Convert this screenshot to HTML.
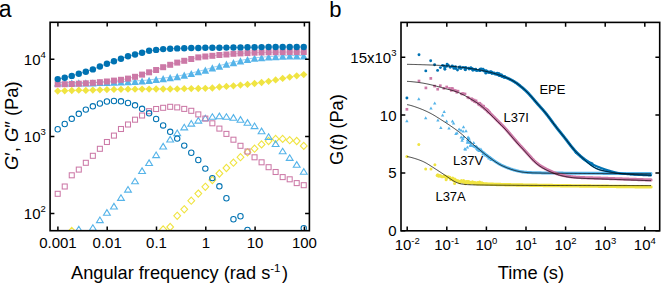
<!DOCTYPE html>
<html><head><meta charset="utf-8"><style>
html,body{margin:0;padding:0;background:#fff;}
svg{display:block;}
text{font-family:"Liberation Sans",sans-serif;fill:#000;}
</style></head><body>
<svg width="661" height="283" viewBox="0 0 661 283">
<defs><clipPath id="ca"><rect x="50.1" y="22.3" width="259.3" height="208.4"/></clipPath><clipPath id="cb"><rect x="401" y="22.4" width="258.7" height="208.4"/></clipPath></defs>
<g clip-path="url(#ca)">
<path d="M71.76 227.40L75.16 231.00L71.76 234.60L68.36 231.00Z" fill="none" stroke="#F0E442" stroke-width="1.1"/>
<path d="M163.15 225.90L166.55 229.50L163.15 233.10L159.75 229.50Z" fill="none" stroke="#F0E442" stroke-width="1.1"/>
<path d="M170.18 223.40L173.58 227.00L170.18 230.60L166.78 227.00Z" fill="none" stroke="#F0E442" stroke-width="1.1"/>
<path d="M177.21 212.20L180.61 215.80L177.21 219.40L173.81 215.80Z" fill="none" stroke="#F0E442" stroke-width="1.1"/>
<path d="M184.24 205.70L187.64 209.30L184.24 212.90L180.84 209.30Z" fill="none" stroke="#F0E442" stroke-width="1.1"/>
<path d="M191.27 197.10L194.67 200.70L191.27 204.30L187.87 200.70Z" fill="none" stroke="#F0E442" stroke-width="1.1"/>
<path d="M198.30 190.00L201.70 193.60L198.30 197.20L194.90 193.60Z" fill="none" stroke="#F0E442" stroke-width="1.1"/>
<path d="M205.33 183.20L208.73 186.80L205.33 190.40L201.93 186.80Z" fill="none" stroke="#F0E442" stroke-width="1.1"/>
<path d="M212.36 176.40L215.76 180.00L212.36 183.60L208.96 180.00Z" fill="none" stroke="#F0E442" stroke-width="1.1"/>
<path d="M219.39 169.90L222.79 173.50L219.39 177.10L215.99 173.50Z" fill="none" stroke="#F0E442" stroke-width="1.1"/>
<path d="M226.42 164.40L229.82 168.00L226.42 171.60L223.02 168.00Z" fill="none" stroke="#F0E442" stroke-width="1.1"/>
<path d="M233.45 159.10L236.85 162.70L233.45 166.30L230.05 162.70Z" fill="none" stroke="#F0E442" stroke-width="1.1"/>
<path d="M240.48 153.60L243.88 157.20L240.48 160.80L237.08 157.20Z" fill="none" stroke="#F0E442" stroke-width="1.1"/>
<path d="M247.51 148.70L250.91 152.30L247.51 155.90L244.11 152.30Z" fill="none" stroke="#F0E442" stroke-width="1.1"/>
<path d="M254.54 145.10L257.94 148.70L254.54 152.30L251.14 148.70Z" fill="none" stroke="#F0E442" stroke-width="1.1"/>
<path d="M261.57 140.80L264.97 144.40L261.57 148.00L258.17 144.40Z" fill="none" stroke="#F0E442" stroke-width="1.1"/>
<path d="M268.60 137.40L272.00 141.00L268.60 144.60L265.20 141.00Z" fill="none" stroke="#F0E442" stroke-width="1.1"/>
<path d="M275.63 135.30L279.03 138.90L275.63 142.50L272.23 138.90Z" fill="none" stroke="#F0E442" stroke-width="1.1"/>
<path d="M282.66 135.30L286.06 138.90L282.66 142.50L279.26 138.90Z" fill="none" stroke="#F0E442" stroke-width="1.1"/>
<path d="M289.69 136.60L293.09 140.20L289.69 143.80L286.29 140.20Z" fill="none" stroke="#F0E442" stroke-width="1.1"/>
<path d="M296.72 137.40L300.12 141.00L296.72 144.60L293.32 141.00Z" fill="none" stroke="#F0E442" stroke-width="1.1"/>
<path d="M303.75 142.30L307.15 145.90L303.75 149.50L300.35 145.90Z" fill="none" stroke="#F0E442" stroke-width="1.1"/>
<path d="M78.79 226.20L82.19 231.80L75.39 231.80Z" fill="none" stroke="#56B4E9" stroke-width="1.1" stroke-linejoin="miter"/>
<path d="M92.85 224.70L96.25 230.30L89.45 230.30Z" fill="none" stroke="#56B4E9" stroke-width="1.1" stroke-linejoin="miter"/>
<path d="M99.88 217.00L103.28 222.60L96.48 222.60Z" fill="none" stroke="#56B4E9" stroke-width="1.1" stroke-linejoin="miter"/>
<path d="M106.91 209.60L110.31 215.20L103.51 215.20Z" fill="none" stroke="#56B4E9" stroke-width="1.1" stroke-linejoin="miter"/>
<path d="M113.94 203.40L117.34 209.00L110.54 209.00Z" fill="none" stroke="#56B4E9" stroke-width="1.1" stroke-linejoin="miter"/>
<path d="M120.97 194.80L124.37 200.40L117.57 200.40Z" fill="none" stroke="#56B4E9" stroke-width="1.1" stroke-linejoin="miter"/>
<path d="M128.00 186.50L131.40 192.10L124.60 192.10Z" fill="none" stroke="#56B4E9" stroke-width="1.1" stroke-linejoin="miter"/>
<path d="M135.03 178.20L138.43 183.80L131.63 183.80Z" fill="none" stroke="#56B4E9" stroke-width="1.1" stroke-linejoin="miter"/>
<path d="M142.06 167.90L145.46 173.50L138.66 173.50Z" fill="none" stroke="#56B4E9" stroke-width="1.1" stroke-linejoin="miter"/>
<path d="M149.09 159.90L152.49 165.50L145.69 165.50Z" fill="none" stroke="#56B4E9" stroke-width="1.1" stroke-linejoin="miter"/>
<path d="M156.12 152.00L159.52 157.60L152.72 157.60Z" fill="none" stroke="#56B4E9" stroke-width="1.1" stroke-linejoin="miter"/>
<path d="M163.15 143.40L166.55 149.00L159.75 149.00Z" fill="none" stroke="#56B4E9" stroke-width="1.1" stroke-linejoin="miter"/>
<path d="M170.18 136.40L173.58 142.00L166.78 142.00Z" fill="none" stroke="#56B4E9" stroke-width="1.1" stroke-linejoin="miter"/>
<path d="M177.21 130.00L180.61 135.60L173.81 135.60Z" fill="none" stroke="#56B4E9" stroke-width="1.1" stroke-linejoin="miter"/>
<path d="M184.24 124.30L187.64 129.90L180.84 129.90Z" fill="none" stroke="#56B4E9" stroke-width="1.1" stroke-linejoin="miter"/>
<path d="M191.27 120.50L194.67 126.10L187.87 126.10Z" fill="none" stroke="#56B4E9" stroke-width="1.1" stroke-linejoin="miter"/>
<path d="M198.30 117.50L201.70 123.10L194.90 123.10Z" fill="none" stroke="#56B4E9" stroke-width="1.1" stroke-linejoin="miter"/>
<path d="M205.33 115.20L208.73 120.80L201.93 120.80Z" fill="none" stroke="#56B4E9" stroke-width="1.1" stroke-linejoin="miter"/>
<path d="M212.36 113.70L215.76 119.30L208.96 119.30Z" fill="none" stroke="#56B4E9" stroke-width="1.1" stroke-linejoin="miter"/>
<path d="M219.39 113.10L222.79 118.70L215.99 118.70Z" fill="none" stroke="#56B4E9" stroke-width="1.1" stroke-linejoin="miter"/>
<path d="M226.42 113.70L229.82 119.30L223.02 119.30Z" fill="none" stroke="#56B4E9" stroke-width="1.1" stroke-linejoin="miter"/>
<path d="M233.45 114.60L236.85 120.20L230.05 120.20Z" fill="none" stroke="#56B4E9" stroke-width="1.1" stroke-linejoin="miter"/>
<path d="M240.48 116.60L243.88 122.20L237.08 122.20Z" fill="none" stroke="#56B4E9" stroke-width="1.1" stroke-linejoin="miter"/>
<path d="M247.51 119.60L250.91 125.20L244.11 125.20Z" fill="none" stroke="#56B4E9" stroke-width="1.1" stroke-linejoin="miter"/>
<path d="M254.54 123.00L257.94 128.60L251.14 128.60Z" fill="none" stroke="#56B4E9" stroke-width="1.1" stroke-linejoin="miter"/>
<path d="M261.57 128.10L264.97 133.70L258.17 133.70Z" fill="none" stroke="#56B4E9" stroke-width="1.1" stroke-linejoin="miter"/>
<path d="M268.60 133.80L272.00 139.40L265.20 139.40Z" fill="none" stroke="#56B4E9" stroke-width="1.1" stroke-linejoin="miter"/>
<path d="M275.63 140.90L279.03 146.50L272.23 146.50Z" fill="none" stroke="#56B4E9" stroke-width="1.1" stroke-linejoin="miter"/>
<path d="M282.66 148.20L286.06 153.80L279.26 153.80Z" fill="none" stroke="#56B4E9" stroke-width="1.1" stroke-linejoin="miter"/>
<path d="M289.69 154.80L293.09 160.40L286.29 160.40Z" fill="none" stroke="#56B4E9" stroke-width="1.1" stroke-linejoin="miter"/>
<path d="M296.72 161.60L300.12 167.20L293.32 167.20Z" fill="none" stroke="#56B4E9" stroke-width="1.1" stroke-linejoin="miter"/>
<path d="M303.75 168.60L307.15 174.20L300.35 174.20Z" fill="none" stroke="#56B4E9" stroke-width="1.1" stroke-linejoin="miter"/>
<rect x="55.20" y="191.30" width="5.0" height="5.0" fill="none" stroke="#CC79A7" stroke-width="1.05"/>
<rect x="62.23" y="184.00" width="5.0" height="5.0" fill="none" stroke="#CC79A7" stroke-width="1.05"/>
<rect x="69.26" y="172.80" width="5.0" height="5.0" fill="none" stroke="#CC79A7" stroke-width="1.05"/>
<rect x="76.29" y="167.10" width="5.0" height="5.0" fill="none" stroke="#CC79A7" stroke-width="1.05"/>
<rect x="83.32" y="160.30" width="5.0" height="5.0" fill="none" stroke="#CC79A7" stroke-width="1.05"/>
<rect x="90.35" y="153.30" width="5.0" height="5.0" fill="none" stroke="#CC79A7" stroke-width="1.05"/>
<rect x="97.38" y="146.30" width="5.0" height="5.0" fill="none" stroke="#CC79A7" stroke-width="1.05"/>
<rect x="104.41" y="139.50" width="5.0" height="5.0" fill="none" stroke="#CC79A7" stroke-width="1.05"/>
<rect x="111.44" y="133.10" width="5.0" height="5.0" fill="none" stroke="#CC79A7" stroke-width="1.05"/>
<rect x="118.47" y="126.50" width="5.0" height="5.0" fill="none" stroke="#CC79A7" stroke-width="1.05"/>
<rect x="125.50" y="122.00" width="5.0" height="5.0" fill="none" stroke="#CC79A7" stroke-width="1.05"/>
<rect x="132.53" y="117.20" width="5.0" height="5.0" fill="none" stroke="#CC79A7" stroke-width="1.05"/>
<rect x="139.56" y="113.00" width="5.0" height="5.0" fill="none" stroke="#CC79A7" stroke-width="1.05"/>
<rect x="146.59" y="108.70" width="5.0" height="5.0" fill="none" stroke="#CC79A7" stroke-width="1.05"/>
<rect x="153.62" y="106.50" width="5.0" height="5.0" fill="none" stroke="#CC79A7" stroke-width="1.05"/>
<rect x="160.65" y="105.30" width="5.0" height="5.0" fill="none" stroke="#CC79A7" stroke-width="1.05"/>
<rect x="167.68" y="104.30" width="5.0" height="5.0" fill="none" stroke="#CC79A7" stroke-width="1.05"/>
<rect x="174.71" y="104.90" width="5.0" height="5.0" fill="none" stroke="#CC79A7" stroke-width="1.05"/>
<rect x="181.74" y="106.40" width="5.0" height="5.0" fill="none" stroke="#CC79A7" stroke-width="1.05"/>
<rect x="188.77" y="108.30" width="5.0" height="5.0" fill="none" stroke="#CC79A7" stroke-width="1.05"/>
<rect x="195.80" y="111.90" width="5.0" height="5.0" fill="none" stroke="#CC79A7" stroke-width="1.05"/>
<rect x="202.83" y="116.10" width="5.0" height="5.0" fill="none" stroke="#CC79A7" stroke-width="1.05"/>
<rect x="209.86" y="120.80" width="5.0" height="5.0" fill="none" stroke="#CC79A7" stroke-width="1.05"/>
<rect x="216.89" y="126.10" width="5.0" height="5.0" fill="none" stroke="#CC79A7" stroke-width="1.05"/>
<rect x="223.92" y="131.40" width="5.0" height="5.0" fill="none" stroke="#CC79A7" stroke-width="1.05"/>
<rect x="230.95" y="137.20" width="5.0" height="5.0" fill="none" stroke="#CC79A7" stroke-width="1.05"/>
<rect x="237.98" y="143.30" width="5.0" height="5.0" fill="none" stroke="#CC79A7" stroke-width="1.05"/>
<rect x="245.01" y="149.00" width="5.0" height="5.0" fill="none" stroke="#CC79A7" stroke-width="1.05"/>
<rect x="252.04" y="154.80" width="5.0" height="5.0" fill="none" stroke="#CC79A7" stroke-width="1.05"/>
<rect x="259.07" y="159.80" width="5.0" height="5.0" fill="none" stroke="#CC79A7" stroke-width="1.05"/>
<rect x="266.10" y="164.70" width="5.0" height="5.0" fill="none" stroke="#CC79A7" stroke-width="1.05"/>
<rect x="273.13" y="169.50" width="5.0" height="5.0" fill="none" stroke="#CC79A7" stroke-width="1.05"/>
<rect x="280.16" y="174.60" width="5.0" height="5.0" fill="none" stroke="#CC79A7" stroke-width="1.05"/>
<rect x="287.19" y="176.80" width="5.0" height="5.0" fill="none" stroke="#CC79A7" stroke-width="1.05"/>
<rect x="294.22" y="180.60" width="5.0" height="5.0" fill="none" stroke="#CC79A7" stroke-width="1.05"/>
<rect x="301.25" y="182.70" width="5.0" height="5.0" fill="none" stroke="#CC79A7" stroke-width="1.05"/>
<circle cx="57.70" cy="129.20" r="2.7" fill="none" stroke="#0072B2" stroke-width="1.05"/>
<circle cx="64.73" cy="124.00" r="2.7" fill="none" stroke="#0072B2" stroke-width="1.05"/>
<circle cx="71.76" cy="118.80" r="2.7" fill="none" stroke="#0072B2" stroke-width="1.05"/>
<circle cx="78.79" cy="113.80" r="2.7" fill="none" stroke="#0072B2" stroke-width="1.05"/>
<circle cx="85.82" cy="109.60" r="2.7" fill="none" stroke="#0072B2" stroke-width="1.05"/>
<circle cx="92.85" cy="106.30" r="2.7" fill="none" stroke="#0072B2" stroke-width="1.05"/>
<circle cx="99.88" cy="103.50" r="2.7" fill="none" stroke="#0072B2" stroke-width="1.05"/>
<circle cx="106.91" cy="101.50" r="2.7" fill="none" stroke="#0072B2" stroke-width="1.05"/>
<circle cx="113.94" cy="101.00" r="2.7" fill="none" stroke="#0072B2" stroke-width="1.05"/>
<circle cx="120.97" cy="101.30" r="2.7" fill="none" stroke="#0072B2" stroke-width="1.05"/>
<circle cx="128.00" cy="103.00" r="2.7" fill="none" stroke="#0072B2" stroke-width="1.05"/>
<circle cx="135.03" cy="105.30" r="2.7" fill="none" stroke="#0072B2" stroke-width="1.05"/>
<circle cx="142.06" cy="108.80" r="2.7" fill="none" stroke="#0072B2" stroke-width="1.05"/>
<circle cx="149.09" cy="113.30" r="2.7" fill="none" stroke="#0072B2" stroke-width="1.05"/>
<circle cx="156.12" cy="119.00" r="2.7" fill="none" stroke="#0072B2" stroke-width="1.05"/>
<circle cx="163.15" cy="125.40" r="2.7" fill="none" stroke="#0072B2" stroke-width="1.05"/>
<circle cx="170.18" cy="131.80" r="2.7" fill="none" stroke="#0072B2" stroke-width="1.05"/>
<circle cx="177.21" cy="138.60" r="2.7" fill="none" stroke="#0072B2" stroke-width="1.05"/>
<circle cx="184.24" cy="145.60" r="2.7" fill="none" stroke="#0072B2" stroke-width="1.05"/>
<circle cx="191.27" cy="152.70" r="2.7" fill="none" stroke="#0072B2" stroke-width="1.05"/>
<circle cx="198.30" cy="160.00" r="2.7" fill="none" stroke="#0072B2" stroke-width="1.05"/>
<circle cx="205.33" cy="168.60" r="2.7" fill="none" stroke="#0072B2" stroke-width="1.05"/>
<circle cx="212.36" cy="178.10" r="2.7" fill="none" stroke="#0072B2" stroke-width="1.05"/>
<circle cx="219.39" cy="186.30" r="2.7" fill="none" stroke="#0072B2" stroke-width="1.05"/>
<circle cx="226.42" cy="198.20" r="2.7" fill="none" stroke="#0072B2" stroke-width="1.05"/>
<circle cx="233.45" cy="219.20" r="2.7" fill="none" stroke="#0072B2" stroke-width="1.05"/>
<circle cx="240.48" cy="216.20" r="2.7" fill="none" stroke="#0072B2" stroke-width="1.05"/>
<circle cx="247.51" cy="230.00" r="2.7" fill="none" stroke="#0072B2" stroke-width="1.05"/>
<circle cx="303.75" cy="228.20" r="2.7" fill="none" stroke="#0072B2" stroke-width="1.05"/>
<polyline points="57.70,91.10 64.73,90.80 71.76,90.50 78.79,90.20 85.82,90.40 92.85,90.10 99.88,89.80 106.91,89.60 113.94,89.40 120.97,89.30 128.00,89.20 135.03,89.20 142.06,89.10 149.09,89.10 156.12,89.00 163.15,89.00 170.18,89.00 177.21,88.90 184.24,88.70 191.27,88.60 198.30,88.50 205.33,88.30 212.36,88.00 219.39,87.00 226.42,86.40 233.45,85.80 240.48,85.10 247.51,84.40 254.54,83.50 261.57,82.50 268.60,81.30 275.63,79.90 282.66,78.40 289.69,77.10 296.72,75.80 303.75,74.60" fill="none" stroke="#F0E442" stroke-width="0.6"/>
<path d="M57.70 87.45L61.35 91.10L57.70 94.75L54.05 91.10Z" fill="#F0E442"/>
<path d="M64.73 87.15L68.38 90.80L64.73 94.45L61.08 90.80Z" fill="#F0E442"/>
<path d="M71.76 86.85L75.41 90.50L71.76 94.15L68.11 90.50Z" fill="#F0E442"/>
<path d="M78.79 86.55L82.44 90.20L78.79 93.85L75.14 90.20Z" fill="#F0E442"/>
<path d="M85.82 86.75L89.47 90.40L85.82 94.05L82.17 90.40Z" fill="#F0E442"/>
<path d="M92.85 86.45L96.50 90.10L92.85 93.75L89.20 90.10Z" fill="#F0E442"/>
<path d="M99.88 86.15L103.53 89.80L99.88 93.45L96.23 89.80Z" fill="#F0E442"/>
<path d="M106.91 85.95L110.56 89.60L106.91 93.25L103.26 89.60Z" fill="#F0E442"/>
<path d="M113.94 85.75L117.59 89.40L113.94 93.05L110.29 89.40Z" fill="#F0E442"/>
<path d="M120.97 85.65L124.62 89.30L120.97 92.95L117.32 89.30Z" fill="#F0E442"/>
<path d="M128.00 85.55L131.65 89.20L128.00 92.85L124.35 89.20Z" fill="#F0E442"/>
<path d="M135.03 85.55L138.68 89.20L135.03 92.85L131.38 89.20Z" fill="#F0E442"/>
<path d="M142.06 85.45L145.71 89.10L142.06 92.75L138.41 89.10Z" fill="#F0E442"/>
<path d="M149.09 85.45L152.74 89.10L149.09 92.75L145.44 89.10Z" fill="#F0E442"/>
<path d="M156.12 85.35L159.77 89.00L156.12 92.65L152.47 89.00Z" fill="#F0E442"/>
<path d="M163.15 85.35L166.80 89.00L163.15 92.65L159.50 89.00Z" fill="#F0E442"/>
<path d="M170.18 85.35L173.83 89.00L170.18 92.65L166.53 89.00Z" fill="#F0E442"/>
<path d="M177.21 85.25L180.86 88.90L177.21 92.55L173.56 88.90Z" fill="#F0E442"/>
<path d="M184.24 85.05L187.89 88.70L184.24 92.35L180.59 88.70Z" fill="#F0E442"/>
<path d="M191.27 84.95L194.92 88.60L191.27 92.25L187.62 88.60Z" fill="#F0E442"/>
<path d="M198.30 84.85L201.95 88.50L198.30 92.15L194.65 88.50Z" fill="#F0E442"/>
<path d="M205.33 84.65L208.98 88.30L205.33 91.95L201.68 88.30Z" fill="#F0E442"/>
<path d="M212.36 84.35L216.01 88.00L212.36 91.65L208.71 88.00Z" fill="#F0E442"/>
<path d="M219.39 83.35L223.04 87.00L219.39 90.65L215.74 87.00Z" fill="#F0E442"/>
<path d="M226.42 82.75L230.07 86.40L226.42 90.05L222.77 86.40Z" fill="#F0E442"/>
<path d="M233.45 82.15L237.10 85.80L233.45 89.45L229.80 85.80Z" fill="#F0E442"/>
<path d="M240.48 81.45L244.13 85.10L240.48 88.75L236.83 85.10Z" fill="#F0E442"/>
<path d="M247.51 80.75L251.16 84.40L247.51 88.05L243.86 84.40Z" fill="#F0E442"/>
<path d="M254.54 79.85L258.19 83.50L254.54 87.15L250.89 83.50Z" fill="#F0E442"/>
<path d="M261.57 78.85L265.22 82.50L261.57 86.15L257.92 82.50Z" fill="#F0E442"/>
<path d="M268.60 77.65L272.25 81.30L268.60 84.95L264.95 81.30Z" fill="#F0E442"/>
<path d="M275.63 76.25L279.28 79.90L275.63 83.55L271.98 79.90Z" fill="#F0E442"/>
<path d="M282.66 74.75L286.31 78.40L282.66 82.05L279.01 78.40Z" fill="#F0E442"/>
<path d="M289.69 73.45L293.34 77.10L289.69 80.75L286.04 77.10Z" fill="#F0E442"/>
<path d="M296.72 72.15L300.37 75.80L296.72 79.45L293.07 75.80Z" fill="#F0E442"/>
<path d="M303.75 70.95L307.40 74.60L303.75 78.25L300.10 74.60Z" fill="#F0E442"/>
<polyline points="57.70,82.50 64.73,82.50 71.76,82.50 78.79,82.50 85.82,82.50 92.85,82.50 99.88,82.10 106.91,82.10 113.94,81.80 120.97,81.60 128.00,81.30 135.03,80.90 142.06,80.60 149.09,79.90 156.12,79.05 163.15,78.15 170.18,77.25 177.21,76.25 184.24,74.70 191.27,73.10 198.30,71.30 205.33,69.70 212.36,67.50 219.39,65.70 226.42,63.70 233.45,62.20 240.48,60.50 247.51,59.10 254.54,57.80 261.57,57.20 268.60,56.60 275.63,56.20 282.66,55.80 289.69,55.60 296.72,55.50 303.75,55.40" fill="none" stroke="#56B4E9" stroke-width="0.6"/>
<path d="M57.70 79.30L61.50 86.50L53.90 86.50Z" fill="#56B4E9"/>
<path d="M64.73 79.30L68.53 86.50L60.93 86.50Z" fill="#56B4E9"/>
<path d="M71.76 79.30L75.56 86.50L67.96 86.50Z" fill="#56B4E9"/>
<path d="M78.79 79.30L82.59 86.50L74.99 86.50Z" fill="#56B4E9"/>
<path d="M85.82 79.30L89.62 86.50L82.02 86.50Z" fill="#56B4E9"/>
<path d="M92.85 79.30L96.65 86.50L89.05 86.50Z" fill="#56B4E9"/>
<path d="M99.88 78.90L103.68 86.10L96.08 86.10Z" fill="#56B4E9"/>
<path d="M106.91 78.90L110.71 86.10L103.11 86.10Z" fill="#56B4E9"/>
<path d="M113.94 78.60L117.74 85.80L110.14 85.80Z" fill="#56B4E9"/>
<path d="M120.97 78.40L124.77 85.60L117.17 85.60Z" fill="#56B4E9"/>
<path d="M128.00 78.10L131.80 85.30L124.20 85.30Z" fill="#56B4E9"/>
<path d="M135.03 77.70L138.83 84.90L131.23 84.90Z" fill="#56B4E9"/>
<path d="M142.06 77.40L145.86 84.60L138.26 84.60Z" fill="#56B4E9"/>
<path d="M149.09 76.70L152.89 83.90L145.29 83.90Z" fill="#56B4E9"/>
<path d="M156.12 75.85L159.92 83.05L152.32 83.05Z" fill="#56B4E9"/>
<path d="M163.15 74.95L166.95 82.15L159.35 82.15Z" fill="#56B4E9"/>
<path d="M170.18 74.05L173.98 81.25L166.38 81.25Z" fill="#56B4E9"/>
<path d="M177.21 73.05L181.01 80.25L173.41 80.25Z" fill="#56B4E9"/>
<path d="M184.24 71.50L188.04 78.70L180.44 78.70Z" fill="#56B4E9"/>
<path d="M191.27 69.90L195.07 77.10L187.47 77.10Z" fill="#56B4E9"/>
<path d="M198.30 68.10L202.10 75.30L194.50 75.30Z" fill="#56B4E9"/>
<path d="M205.33 66.50L209.13 73.70L201.53 73.70Z" fill="#56B4E9"/>
<path d="M212.36 64.30L216.16 71.50L208.56 71.50Z" fill="#56B4E9"/>
<path d="M219.39 62.50L223.19 69.70L215.59 69.70Z" fill="#56B4E9"/>
<path d="M226.42 60.50L230.22 67.70L222.62 67.70Z" fill="#56B4E9"/>
<path d="M233.45 59.00L237.25 66.20L229.65 66.20Z" fill="#56B4E9"/>
<path d="M240.48 57.30L244.28 64.50L236.68 64.50Z" fill="#56B4E9"/>
<path d="M247.51 55.90L251.31 63.10L243.71 63.10Z" fill="#56B4E9"/>
<path d="M254.54 54.60L258.34 61.80L250.74 61.80Z" fill="#56B4E9"/>
<path d="M261.57 54.00L265.37 61.20L257.77 61.20Z" fill="#56B4E9"/>
<path d="M268.60 53.40L272.40 60.60L264.80 60.60Z" fill="#56B4E9"/>
<path d="M275.63 53.00L279.43 60.20L271.83 60.20Z" fill="#56B4E9"/>
<path d="M282.66 52.60L286.46 59.80L278.86 59.80Z" fill="#56B4E9"/>
<path d="M289.69 52.40L293.49 59.60L285.89 59.60Z" fill="#56B4E9"/>
<path d="M296.72 52.30L300.52 59.50L292.92 59.50Z" fill="#56B4E9"/>
<path d="M303.75 52.20L307.55 59.40L299.95 59.40Z" fill="#56B4E9"/>
<polyline points="57.70,84.30 64.73,84.20 71.76,84.00 78.79,83.70 85.82,83.30 92.85,82.80 99.88,82.20 106.91,81.50 113.94,80.60 120.97,79.80 128.00,78.60 135.03,76.80 142.06,74.60 149.09,72.30 156.12,70.00 163.15,67.20 170.18,64.80 177.21,62.60 184.24,60.80 191.27,59.00 198.30,57.40 205.33,56.50 212.36,55.80 219.39,55.00 226.42,54.50 233.45,53.80 240.48,53.40 247.51,53.10 254.54,52.70 261.57,52.50 268.60,52.30 275.63,52.20 282.66,52.10 289.69,52.00 296.72,52.00 303.75,52.00" fill="none" stroke="#CC79A7" stroke-width="0.6"/>
<rect x="54.70" y="81.30" width="6.0" height="6.0" fill="#CC79A7"/>
<rect x="61.73" y="81.20" width="6.0" height="6.0" fill="#CC79A7"/>
<rect x="68.76" y="81.00" width="6.0" height="6.0" fill="#CC79A7"/>
<rect x="75.79" y="80.70" width="6.0" height="6.0" fill="#CC79A7"/>
<rect x="82.82" y="80.30" width="6.0" height="6.0" fill="#CC79A7"/>
<rect x="89.85" y="79.80" width="6.0" height="6.0" fill="#CC79A7"/>
<rect x="96.88" y="79.20" width="6.0" height="6.0" fill="#CC79A7"/>
<rect x="103.91" y="78.50" width="6.0" height="6.0" fill="#CC79A7"/>
<rect x="110.94" y="77.60" width="6.0" height="6.0" fill="#CC79A7"/>
<rect x="117.97" y="76.80" width="6.0" height="6.0" fill="#CC79A7"/>
<rect x="125.00" y="75.60" width="6.0" height="6.0" fill="#CC79A7"/>
<rect x="132.03" y="73.80" width="6.0" height="6.0" fill="#CC79A7"/>
<rect x="139.06" y="71.60" width="6.0" height="6.0" fill="#CC79A7"/>
<rect x="146.09" y="69.30" width="6.0" height="6.0" fill="#CC79A7"/>
<rect x="153.12" y="67.00" width="6.0" height="6.0" fill="#CC79A7"/>
<rect x="160.15" y="64.20" width="6.0" height="6.0" fill="#CC79A7"/>
<rect x="167.18" y="61.80" width="6.0" height="6.0" fill="#CC79A7"/>
<rect x="174.21" y="59.60" width="6.0" height="6.0" fill="#CC79A7"/>
<rect x="181.24" y="57.80" width="6.0" height="6.0" fill="#CC79A7"/>
<rect x="188.27" y="56.00" width="6.0" height="6.0" fill="#CC79A7"/>
<rect x="195.30" y="54.40" width="6.0" height="6.0" fill="#CC79A7"/>
<rect x="202.33" y="53.50" width="6.0" height="6.0" fill="#CC79A7"/>
<rect x="209.36" y="52.80" width="6.0" height="6.0" fill="#CC79A7"/>
<rect x="216.39" y="52.00" width="6.0" height="6.0" fill="#CC79A7"/>
<rect x="223.42" y="51.50" width="6.0" height="6.0" fill="#CC79A7"/>
<rect x="230.45" y="50.80" width="6.0" height="6.0" fill="#CC79A7"/>
<rect x="237.48" y="50.40" width="6.0" height="6.0" fill="#CC79A7"/>
<rect x="244.51" y="50.10" width="6.0" height="6.0" fill="#CC79A7"/>
<rect x="251.54" y="49.70" width="6.0" height="6.0" fill="#CC79A7"/>
<rect x="258.57" y="49.50" width="6.0" height="6.0" fill="#CC79A7"/>
<rect x="265.60" y="49.30" width="6.0" height="6.0" fill="#CC79A7"/>
<rect x="272.63" y="49.20" width="6.0" height="6.0" fill="#CC79A7"/>
<rect x="279.66" y="49.10" width="6.0" height="6.0" fill="#CC79A7"/>
<rect x="286.69" y="49.00" width="6.0" height="6.0" fill="#CC79A7"/>
<rect x="293.72" y="49.00" width="6.0" height="6.0" fill="#CC79A7"/>
<rect x="300.75" y="49.00" width="6.0" height="6.0" fill="#CC79A7"/>
<polyline points="57.70,79.10 64.73,77.80 71.76,75.90 78.79,73.80 85.82,71.70 92.85,69.40 99.88,66.50 106.91,63.70 113.94,61.30 120.97,58.70 128.00,56.30 135.03,54.50 142.06,52.70 149.09,50.80 156.12,49.90 163.15,49.10 170.18,48.70 177.21,48.40 184.24,48.20 191.27,48.00 198.30,48.00 205.33,47.80 212.36,47.70 219.39,47.70 226.42,47.60 233.45,47.50 240.48,47.40 247.51,47.30 254.54,47.20 261.57,47.10 268.60,47.00 275.63,47.00 282.66,47.00 289.69,47.00 296.72,47.00 303.75,47.00" fill="none" stroke="#0072B2" stroke-width="0.6"/>
<circle cx="57.70" cy="79.10" r="3.2" fill="#0072B2"/>
<circle cx="64.73" cy="77.80" r="3.2" fill="#0072B2"/>
<circle cx="71.76" cy="75.90" r="3.2" fill="#0072B2"/>
<circle cx="78.79" cy="73.80" r="3.2" fill="#0072B2"/>
<circle cx="85.82" cy="71.70" r="3.2" fill="#0072B2"/>
<circle cx="92.85" cy="69.40" r="3.2" fill="#0072B2"/>
<circle cx="99.88" cy="66.50" r="3.2" fill="#0072B2"/>
<circle cx="106.91" cy="63.70" r="3.2" fill="#0072B2"/>
<circle cx="113.94" cy="61.30" r="3.2" fill="#0072B2"/>
<circle cx="120.97" cy="58.70" r="3.2" fill="#0072B2"/>
<circle cx="128.00" cy="56.30" r="3.2" fill="#0072B2"/>
<circle cx="135.03" cy="54.50" r="3.2" fill="#0072B2"/>
<circle cx="142.06" cy="52.70" r="3.2" fill="#0072B2"/>
<circle cx="149.09" cy="50.80" r="3.2" fill="#0072B2"/>
<circle cx="156.12" cy="49.90" r="3.2" fill="#0072B2"/>
<circle cx="163.15" cy="49.10" r="3.2" fill="#0072B2"/>
<circle cx="170.18" cy="48.70" r="3.2" fill="#0072B2"/>
<circle cx="177.21" cy="48.40" r="3.2" fill="#0072B2"/>
<circle cx="184.24" cy="48.20" r="3.2" fill="#0072B2"/>
<circle cx="191.27" cy="48.00" r="3.2" fill="#0072B2"/>
<circle cx="198.30" cy="48.00" r="3.2" fill="#0072B2"/>
<circle cx="205.33" cy="47.80" r="3.2" fill="#0072B2"/>
<circle cx="212.36" cy="47.70" r="3.2" fill="#0072B2"/>
<circle cx="219.39" cy="47.70" r="3.2" fill="#0072B2"/>
<circle cx="226.42" cy="47.60" r="3.2" fill="#0072B2"/>
<circle cx="233.45" cy="47.50" r="3.2" fill="#0072B2"/>
<circle cx="240.48" cy="47.40" r="3.2" fill="#0072B2"/>
<circle cx="247.51" cy="47.30" r="3.2" fill="#0072B2"/>
<circle cx="254.54" cy="47.20" r="3.2" fill="#0072B2"/>
<circle cx="261.57" cy="47.10" r="3.2" fill="#0072B2"/>
<circle cx="268.60" cy="47.00" r="3.2" fill="#0072B2"/>
<circle cx="275.63" cy="47.00" r="3.2" fill="#0072B2"/>
<circle cx="282.66" cy="47.00" r="3.2" fill="#0072B2"/>
<circle cx="289.69" cy="47.00" r="3.2" fill="#0072B2"/>
<circle cx="296.72" cy="47.00" r="3.2" fill="#0072B2"/>
<circle cx="303.75" cy="47.00" r="3.2" fill="#0072B2"/>
</g>
<g clip-path="url(#cb)">
<path d="M466.80 182.32 L467.42 182.36 L468.03 182.40 L468.65 182.46 L469.26 182.51 L469.88 182.57 L470.50 182.64 L471.11 182.70 L471.73 182.76 L472.34 182.83 L472.96 182.89 L473.58 182.95 L474.19 183.01 L474.81 183.07 L475.42 183.13 L476.04 183.19 L476.66 183.24 L477.27 183.30 L477.89 183.35 L478.51 183.41 L479.12 183.46 L479.74 183.51 L480.35 183.56 L480.97 183.61 L481.59 183.66 L482.20 183.71 L482.82 183.76 L483.43 183.80 L484.05 183.85 L484.67 183.89 L485.28 183.93 L485.90 183.97 L486.51 184.01 L487.13 184.04 L487.75 184.08 L488.36 184.11 L488.98 184.14 L489.59 184.17 L490.21 184.20 L490.83 184.22 L491.44 184.25 L492.06 184.28 L492.67 184.30 L493.29 184.32 L493.91 184.34 L494.52 184.37 L495.14 184.39 L495.75 184.41 L496.37 184.43 L496.99 184.45 L497.60 184.47 L498.22 184.49 L498.83 184.51 L499.45 184.53 L500.07 184.55 L500.68 184.57 L501.30 184.58 L501.92 184.60 L502.53 184.62 L503.15 184.64 L503.76 184.65 L504.38 184.67 L505.00 184.68 L505.61 184.70 L506.23 184.72 L506.84 184.73 L507.46 184.75 L508.08 184.76 L508.69 184.78 L509.31 184.79 L509.92 184.80 L510.54 184.82 L511.16 184.83 L511.77 184.85 L512.39 184.86 L513.00 184.87 L513.62 184.89 L514.24 184.90 L514.85 184.91 L515.47 184.92 L516.08 184.94 L516.70 184.95 L517.32 184.96 L517.93 184.97 L518.55 184.99 L519.16 185.00 L519.78 185.01 L520.40 185.02 L521.01 185.03 L521.63 185.04 L522.24 185.06 L522.86 185.07 L523.48 185.08 L524.09 185.09 L524.71 185.10 L525.33 185.11 L525.94 185.12 L526.56 185.14 L527.17 185.15 L527.79 185.16 L528.41 185.17 L529.02 185.18 L529.64 185.19 L530.25 185.20 L530.87 185.22 L531.49 185.23 L532.10 185.24 L532.72 185.25 L533.33 185.26 L533.95 185.27 L534.57 185.28 L535.18 185.29 L535.80 185.30 L536.41 185.31 L537.03 185.32 L537.65 185.34 L538.26 185.35 L538.88 185.36 L539.49 185.37 L540.11 185.38 L540.73 185.39 L541.34 185.40 L541.96 185.41 L542.57 185.42 L543.19 185.43 L543.81 185.44 L544.42 185.45 L545.04 185.46 L545.65 185.47 L546.27 185.47 L546.89 185.48 L547.50 185.49 L548.12 185.50 L548.74 185.51 L549.35 185.52 L549.97 185.53 L550.58 185.54 L551.20 185.55 L551.82 185.56 L552.43 185.57 L553.05 185.58 L553.66 185.58 L554.28 185.59 L554.90 185.60 L555.51 185.61 L556.13 185.62 L556.74 185.63 L557.36 185.64 L557.98 185.65 L558.59 185.65 L559.21 185.66 L559.82 185.67 L560.44 185.68 L561.06 185.69 L561.67 185.70 L562.29 185.70 L562.90 185.71 L563.52 185.72 L564.14 185.73 L564.75 185.74 L565.37 185.75 L565.98 185.75 L566.60 185.76 L567.22 185.77 L567.83 185.78 L568.45 185.79 L569.06 185.79 L569.68 185.80 L570.30 185.81 L570.91 185.82 L571.53 185.83 L572.15 185.83 L572.76 185.84 L573.38 185.85 L573.99 185.86 L574.61 185.87 L575.23 185.87 L575.84 185.88 L576.46 185.89 L577.07 185.90 L577.69 185.91 L578.31 185.91 L578.92 185.92 L579.54 185.93 L580.15 185.94 L580.77 185.95 L581.39 185.95 L582.00 185.96 L582.62 185.97 L583.23 185.98 L583.85 185.98 L584.47 185.99 L585.08 186.00 L585.70 186.01 L586.31 186.02 L586.93 186.02 L587.55 186.03 L588.16 186.04 L588.78 186.05 L589.39 186.06 L590.01 186.07 L590.63 186.07 L591.24 186.08 L591.86 186.09 L592.47 186.10 L593.09 186.11 L593.71 186.11 L594.32 186.12 L594.94 186.13 L595.56 186.14 L596.17 186.15 L596.79 186.16 L597.40 186.16 L598.02 186.17 L598.64 186.18 L599.25 186.19 L599.87 186.20 L600.48 186.21 L601.10 186.22 L601.72 186.22 L602.33 186.23 L602.95 186.24 L603.56 186.25 L604.18 186.26 L604.80 186.27 L605.41 186.28 L606.03 186.28 L606.64 186.29 L607.26 186.30 L607.88 186.31 L608.49 186.32 L609.11 186.33 L609.72 186.34 L610.34 186.34 L610.96 186.35 L611.57 186.36 L612.19 186.37 L612.80 186.38 L613.42 186.39 L614.04 186.40 L614.65 186.40 L615.27 186.41 L615.88 186.42 L616.50 186.43 L617.12 186.44 L617.73 186.45 L618.35 186.45 L618.97 186.46 L619.58 186.47 L620.20 186.48 L620.81 186.49 L621.43 186.50 L622.05 186.51 L622.66 186.51 L623.28 186.52 L623.89 186.53 L624.51 186.54 L625.13 186.55 L625.74 186.56 L626.36 186.56 L626.97 186.57 L627.59 186.58 L628.21 186.59 L628.82 186.60 L629.44 186.61 L630.05 186.62 L630.67 186.62 L631.29 186.63 L631.90 186.64 L632.52 186.65 L633.13 186.66 L633.75 186.67 L634.37 186.67 L634.98 186.68 L635.60 186.69 L636.21 186.70 L636.83 186.71 L637.45 186.72 L638.06 186.72 L638.68 186.73 L639.29 186.74 L639.91 186.75 L640.53 186.76 L641.14 186.77 L641.76 186.77 L642.38 186.78 L642.99 186.79 L643.61 186.80 L644.22 186.81 L644.84 186.82 L645.46 186.82 L646.07 186.83 L646.69 186.84 L647.30 186.85 L647.92 186.86 L648.54 186.86 L649.15 186.87 L649.77 186.88 L650.38 186.88 L651.00 186.88" fill="none" stroke="#F0E442" stroke-width="3.4" stroke-linecap="round" stroke-linejoin="round"/>
<path d="M478.00 149.05 L478.58 149.32 L479.16 149.63 L479.74 149.97 L480.31 150.36 L480.89 150.77 L481.47 151.19 L482.05 151.64 L482.63 152.09 L483.21 152.55 L483.79 153.00 L484.36 153.46 L484.94 153.92 L485.52 154.37 L486.10 154.82 L486.68 155.26 L487.26 155.71 L487.84 156.15 L488.41 156.58 L488.99 157.02 L489.57 157.45 L490.15 157.88 L490.73 158.30 L491.31 158.73 L491.89 159.15 L492.46 159.56 L493.04 159.97 L493.62 160.38 L494.20 160.79 L494.78 161.18 L495.36 161.57 L495.94 161.96 L496.52 162.33 L497.09 162.70 L497.67 163.06 L498.25 163.41 L498.83 163.75 L499.41 164.08 L499.99 164.40 L500.57 164.71 L501.14 165.01 L501.72 165.30 L502.30 165.58 L502.88 165.85 L503.46 166.11 L504.04 166.37 L504.62 166.62 L505.19 166.86 L505.77 167.10 L506.35 167.34 L506.93 167.57 L507.51 167.80 L508.09 168.02 L508.67 168.24 L509.24 168.45 L509.82 168.66 L510.40 168.87 L510.98 169.07 L511.56 169.26 L512.14 169.45 L512.72 169.63 L513.29 169.81 L513.87 169.98 L514.45 170.14 L515.03 170.30 L515.61 170.46 L516.19 170.61 L516.77 170.75 L517.34 170.89 L517.92 171.03 L518.50 171.16 L519.08 171.29 L519.66 171.40 L520.24 171.52 L520.82 171.62 L521.39 171.72 L521.97 171.81 L522.55 171.90 L523.13 171.98 L523.71 172.05 L524.29 172.12 L524.87 172.19 L525.44 172.25 L526.02 172.30 L526.60 172.35 L527.18 172.40 L527.76 172.44 L528.34 172.48 L528.92 172.52 L529.49 172.55 L530.07 172.58 L530.65 172.60 L531.23 172.62 L531.81 172.65 L532.39 172.66 L532.97 172.68 L533.55 172.70 L534.12 172.72 L534.70 172.73 L535.28 172.75 L535.86 172.76 L536.44 172.78 L537.02 172.79 L537.60 172.80 L538.17 172.82 L538.75 172.83 L539.33 172.84 L539.91 172.85 L540.49 172.86 L541.07 172.87 L541.65 172.88 L542.22 172.89 L542.80 172.90 L543.38 172.91 L543.96 172.92 L544.54 172.93 L545.12 172.94 L545.70 172.95 L546.27 172.96 L546.85 172.97 L547.43 172.97 L548.01 172.98 L548.59 172.99 L549.17 173.00 L549.75 173.00 L550.32 173.01 L550.90 173.02 L551.48 173.02 L552.06 173.03 L552.64 173.03 L553.22 173.04 L553.80 173.05 L554.37 173.05 L554.95 173.06 L555.53 173.06 L556.11 173.07 L556.69 173.07 L557.27 173.08 L557.85 173.08 L558.42 173.09 L559.00 173.09 L559.58 173.10 L560.16 173.10 L560.74 173.11 L561.32 173.11 L561.90 173.11 L562.47 173.12 L563.05 173.12 L563.63 173.13 L564.21 173.13 L564.79 173.14 L565.37 173.14 L565.95 173.14 L566.53 173.15 L567.10 173.15 L567.68 173.16 L568.26 173.16 L568.84 173.17 L569.42 173.17 L570.00 173.17 L570.58 173.18 L571.15 173.18 L571.73 173.19 L572.31 173.19 L572.89 173.19 L573.47 173.20 L574.05 173.20 L574.63 173.21 L575.20 173.21 L575.78 173.21 L576.36 173.22 L576.94 173.22 L577.52 173.23 L578.10 173.23 L578.68 173.23 L579.25 173.24 L579.83 173.24 L580.41 173.25 L580.99 173.25 L581.57 173.25 L582.15 173.26 L582.73 173.26 L583.30 173.26 L583.88 173.27 L584.46 173.27 L585.04 173.28 L585.62 173.28 L586.20 173.28 L586.78 173.29 L587.35 173.29 L587.93 173.29 L588.51 173.30 L589.09 173.30 L589.67 173.30 L590.25 173.31 L590.83 173.31 L591.40 173.31 L591.98 173.32 L592.56 173.32 L593.14 173.32 L593.72 173.33 L594.30 173.33 L594.88 173.33 L595.45 173.34 L596.03 173.34 L596.61 173.34 L597.19 173.35 L597.77 173.35 L598.35 173.35 L598.93 173.36 L599.51 173.36 L600.08 173.36 L600.66 173.36 L601.24 173.37 L601.82 173.37 L602.40 173.37 L602.98 173.38 L603.56 173.38 L604.13 173.38 L604.71 173.38 L605.29 173.39 L605.87 173.39 L606.45 173.39 L607.03 173.39 L607.61 173.40 L608.18 173.40 L608.76 173.40 L609.34 173.40 L609.92 173.41 L610.50 173.41 L611.08 173.41 L611.66 173.41 L612.23 173.42 L612.81 173.42 L613.39 173.42 L613.97 173.42 L614.55 173.43 L615.13 173.43 L615.71 173.43 L616.28 173.43 L616.86 173.43 L617.44 173.44 L618.02 173.44 L618.60 173.44 L619.18 173.44 L619.76 173.44 L620.33 173.45 L620.91 173.45 L621.49 173.45 L622.07 173.45 L622.65 173.45 L623.23 173.46 L623.81 173.46 L624.38 173.46 L624.96 173.46 L625.54 173.46 L626.12 173.46 L626.70 173.47 L627.28 173.47 L627.86 173.47 L628.43 173.47 L629.01 173.47 L629.59 173.47 L630.17 173.47 L630.75 173.48 L631.33 173.48 L631.91 173.48 L632.48 173.48 L633.06 173.48 L633.64 173.48 L634.22 173.48 L634.80 173.48 L635.38 173.49 L635.96 173.49 L636.54 173.49 L637.11 173.49 L637.69 173.49 L638.27 173.49 L638.85 173.49 L639.43 173.49 L640.01 173.49 L640.59 173.49 L641.16 173.49 L641.74 173.49 L642.32 173.50 L642.90 173.50 L643.48 173.50 L644.06 173.50 L644.64 173.50 L645.21 173.50 L645.79 173.50 L646.37 173.50 L646.95 173.50 L647.53 173.50 L648.11 173.50 L648.69 173.50 L649.26 173.50 L649.84 173.50 L650.42 173.50 L651.00 173.50" fill="none" stroke="#56B4E9" stroke-width="3.0" stroke-linecap="round" stroke-linejoin="round"/>
<path d="M481.50 106.21 L482.07 106.49 L482.63 106.82 L483.20 107.19 L483.77 107.61 L484.33 108.05 L484.90 108.52 L485.47 109.01 L486.04 109.51 L486.60 110.03 L487.17 110.55 L487.74 111.08 L488.30 111.62 L488.87 112.16 L489.44 112.70 L490.00 113.25 L490.57 113.80 L491.14 114.36 L491.70 114.91 L492.27 115.47 L492.84 116.04 L493.40 116.60 L493.97 117.17 L494.54 117.73 L495.11 118.30 L495.67 118.87 L496.24 119.44 L496.81 120.00 L497.37 120.57 L497.94 121.14 L498.51 121.70 L499.07 122.27 L499.64 122.83 L500.21 123.39 L500.77 123.96 L501.34 124.52 L501.91 125.09 L502.47 125.66 L503.04 126.23 L503.61 126.81 L504.18 127.40 L504.74 127.99 L505.31 128.60 L505.88 129.22 L506.44 129.84 L507.01 130.48 L507.58 131.13 L508.14 131.78 L508.71 132.44 L509.28 133.10 L509.84 133.76 L510.41 134.43 L510.98 135.09 L511.55 135.76 L512.11 136.42 L512.68 137.09 L513.25 137.75 L513.81 138.42 L514.38 139.08 L514.95 139.74 L515.51 140.40 L516.08 141.05 L516.65 141.70 L517.21 142.35 L517.78 142.99 L518.35 143.62 L518.91 144.24 L519.48 144.86 L520.05 145.47 L520.62 146.08 L521.18 146.68 L521.75 147.28 L522.32 147.88 L522.88 148.49 L523.45 149.09 L524.02 149.71 L524.58 150.32 L525.15 150.95 L525.72 151.57 L526.28 152.21 L526.85 152.84 L527.42 153.48 L527.98 154.12 L528.55 154.76 L529.12 155.40 L529.69 156.04 L530.25 156.67 L530.82 157.30 L531.39 157.92 L531.95 158.53 L532.52 159.12 L533.09 159.71 L533.65 160.27 L534.22 160.83 L534.79 161.36 L535.35 161.88 L535.92 162.39 L536.49 162.87 L537.06 163.34 L537.62 163.80 L538.19 164.24 L538.76 164.66 L539.32 165.07 L539.89 165.46 L540.46 165.85 L541.02 166.21 L541.59 166.57 L542.16 166.92 L542.72 167.25 L543.29 167.58 L543.86 167.90 L544.42 168.21 L544.99 168.51 L545.56 168.81 L546.13 169.09 L546.69 169.38 L547.26 169.66 L547.83 169.93 L548.39 170.20 L548.96 170.47 L549.53 170.73 L550.09 170.99 L550.66 171.24 L551.23 171.49 L551.79 171.73 L552.36 171.98 L552.93 172.21 L553.49 172.44 L554.06 172.66 L554.63 172.88 L555.20 173.09 L555.76 173.29 L556.33 173.48 L556.90 173.67 L557.46 173.86 L558.03 174.03 L558.60 174.20 L559.16 174.37 L559.73 174.53 L560.30 174.68 L560.86 174.83 L561.43 174.97 L562.00 175.11 L562.57 175.24 L563.13 175.37 L563.70 175.50 L564.27 175.62 L564.83 175.73 L565.40 175.84 L565.97 175.95 L566.53 176.06 L567.10 176.16 L567.67 176.25 L568.23 176.35 L568.80 176.44 L569.37 176.52 L569.93 176.60 L570.50 176.68 L571.07 176.75 L571.64 176.82 L572.20 176.88 L572.77 176.94 L573.34 177.00 L573.90 177.05 L574.47 177.10 L575.04 177.15 L575.60 177.20 L576.17 177.24 L576.74 177.28 L577.30 177.32 L577.87 177.36 L578.44 177.39 L579.01 177.43 L579.57 177.46 L580.14 177.49 L580.71 177.52 L581.27 177.55 L581.84 177.58 L582.41 177.61 L582.97 177.63 L583.54 177.66 L584.11 177.68 L584.67 177.71 L585.24 177.73 L585.81 177.75 L586.37 177.77 L586.94 177.79 L587.51 177.81 L588.08 177.83 L588.64 177.85 L589.21 177.87 L589.78 177.89 L590.34 177.91 L590.91 177.92 L591.48 177.94 L592.04 177.96 L592.61 177.97 L593.18 177.99 L593.74 178.01 L594.31 178.03 L594.88 178.04 L595.44 178.06 L596.01 178.08 L596.58 178.09 L597.15 178.11 L597.71 178.13 L598.28 178.15 L598.85 178.16 L599.41 178.18 L599.98 178.20 L600.55 178.22 L601.11 178.24 L601.68 178.26 L602.25 178.28 L602.81 178.30 L603.38 178.32 L603.95 178.34 L604.52 178.36 L605.08 178.38 L605.65 178.40 L606.22 178.42 L606.78 178.44 L607.35 178.45 L607.92 178.47 L608.48 178.49 L609.05 178.51 L609.62 178.53 L610.18 178.55 L610.75 178.57 L611.32 178.59 L611.88 178.61 L612.45 178.63 L613.02 178.65 L613.59 178.67 L614.15 178.69 L614.72 178.71 L615.29 178.73 L615.85 178.75 L616.42 178.77 L616.99 178.79 L617.55 178.81 L618.12 178.83 L618.69 178.85 L619.25 178.87 L619.82 178.89 L620.39 178.91 L620.95 178.93 L621.52 178.95 L622.09 178.97 L622.66 178.99 L623.22 179.01 L623.79 179.03 L624.36 179.05 L624.92 179.07 L625.49 179.09 L626.06 179.11 L626.62 179.13 L627.19 179.15 L627.76 179.17 L628.32 179.19 L628.89 179.21 L629.46 179.23 L630.03 179.25 L630.59 179.27 L631.16 179.29 L631.73 179.31 L632.29 179.33 L632.86 179.35 L633.43 179.37 L633.99 179.39 L634.56 179.41 L635.13 179.43 L635.69 179.45 L636.26 179.47 L636.83 179.49 L637.39 179.51 L637.96 179.53 L638.53 179.55 L639.10 179.57 L639.66 179.59 L640.23 179.61 L640.80 179.63 L641.36 179.65 L641.93 179.67 L642.50 179.69 L643.06 179.71 L643.63 179.73 L644.20 179.75 L644.76 179.77 L645.33 179.79 L645.90 179.81 L646.46 179.83 L647.03 179.85 L647.60 179.87 L648.17 179.89 L648.73 179.91 L649.30 179.92 L649.87 179.94 L650.43 179.95 L651.00 179.96" fill="none" stroke="#CC79A7" stroke-width="3.2" stroke-linecap="round" stroke-linejoin="round"/>
<path d="M495.00 73.91 L495.32 73.96 L495.65 74.02 L495.97 74.09 L496.30 74.16 L496.62 74.23 L496.95 74.31 L497.27 74.39 L497.60 74.48 L497.92 74.58 L498.24 74.67 L498.57 74.77 L498.89 74.87 L499.22 74.97 L499.54 75.08 L499.87 75.19 L500.19 75.30 L500.52 75.41 L500.84 75.52 L501.16 75.64 L501.49 75.76 L501.81 75.87 L502.14 75.99 L502.46 76.11 L502.79 76.23 L503.11 76.36 L503.43 76.48 L503.76 76.61 L504.08 76.73 L504.41 76.86 L504.73 76.99 L505.06 77.12 L505.38 77.25 L505.71 77.39 L506.03 77.52 L506.35 77.66 L506.68 77.80 L507.00 77.94 L507.33 78.08 L507.65 78.22 L507.98 78.37 L508.30 78.52 L508.63 78.67 L508.95 78.82 L509.27 78.97 L509.60 79.13 L509.92 79.29 L510.25 79.45 L510.57 79.61 L510.90 79.78 L511.22 79.95 L511.55 80.12 L511.87 80.29 L512.19 80.47 L512.52 80.65 L512.84 80.83 L513.17 81.02 L513.49 81.21 L513.82 81.40 L514.14 81.60 L514.46 81.80 L514.79 82.00 L515.11 82.21 L515.44 82.42 L515.76 82.64 L516.09 82.86 L516.41 83.08 L516.74 83.31 L517.06 83.54 L517.38 83.78 L517.71 84.02 L518.03 84.26 L518.36 84.51 L518.68 84.76 L519.01 85.01 L519.33 85.26 L519.66 85.52 L519.98 85.78 L520.30 86.04 L520.63 86.31 L520.95 86.57 L521.28 86.84 L521.60 87.11 L521.93 87.38 L522.25 87.65 L522.58 87.93 L522.90 88.20 L523.22 88.48 L523.55 88.76 L523.87 89.05 L524.20 89.34 L524.52 89.62 L524.85 89.92 L525.17 90.21 L525.49 90.51 L525.82 90.82 L526.14 91.12 L526.47 91.44 L526.79 91.75 L527.12 92.07 L527.44 92.40 L527.77 92.73 L528.09 93.06 L528.41 93.40 L528.74 93.74 L529.06 94.09 L529.39 94.44 L529.71 94.80 L530.04 95.15 L530.36 95.52 L530.69 95.88 L531.01 96.25 L531.33 96.62 L531.66 97.00 L531.98 97.37 L532.31 97.75 L532.63 98.13 L532.96 98.51 L533.28 98.89 L533.61 99.27 L533.93 99.65 L534.25 100.03 L534.58 100.41 L534.90 100.79 L535.23 101.16 L535.55 101.54 L535.88 101.92 L536.20 102.29 L536.53 102.67 L536.85 103.04 L537.17 103.41 L537.50 103.78 L537.82 104.15 L538.15 104.52 L538.47 104.88 L538.80 105.25 L539.12 105.61 L539.44 105.98 L539.77 106.34 L540.09 106.70 L540.42 107.06 L540.74 107.43 L541.07 107.79 L541.39 108.15 L541.72 108.51 L542.04 108.88 L542.36 109.24 L542.69 109.61 L543.01 109.98 L543.34 110.35 L543.66 110.73 L543.99 111.11 L544.31 111.49 L544.64 111.88 L544.96 112.27 L545.28 112.66 L545.61 113.06 L545.93 113.47 L546.26 113.88 L546.58 114.29 L546.91 114.70 L547.23 115.12 L547.56 115.54 L547.88 115.97 L548.20 116.39 L548.53 116.82 L548.85 117.25 L549.18 117.68 L549.50 118.11 L549.83 118.54 L550.15 118.98 L550.47 119.41 L550.80 119.85 L551.12 120.29 L551.45 120.73 L551.77 121.16 L552.10 121.60 L552.42 122.04 L552.75 122.48 L553.07 122.92 L553.39 123.36 L553.72 123.79 L554.04 124.23 L554.37 124.66 L554.69 125.09 L555.02 125.52 L555.34 125.95 L555.67 126.38 L555.99 126.80 L556.31 127.22 L556.64 127.64 L556.96 128.06 L557.29 128.48 L557.61 128.89 L557.94 129.31 L558.26 129.72 L558.59 130.13 L558.91 130.54 L559.23 130.94 L559.56 131.35 L559.88 131.75 L560.21 132.16 L560.53 132.56 L560.86 132.96 L561.18 133.36 L561.51 133.77 L561.83 134.17 L562.15 134.57 L562.48 134.98 L562.80 135.38 L563.13 135.78 L563.45 136.19 L563.78 136.60 L564.10 137.01 L564.42 137.42 L564.75 137.83 L565.07 138.25 L565.40 138.66 L565.72 139.08 L566.05 139.50 L566.37 139.92 L566.70 140.35 L567.02 140.77 L567.34 141.20 L567.67 141.62 L567.99 142.05 L568.32 142.48 L568.64 142.91 L568.97 143.34 L569.29 143.77 L569.62 144.19 L569.94 144.62 L570.26 145.04 L570.59 145.46 L570.91 145.88 L571.24 146.29 L571.56 146.70 L571.89 147.11 L572.21 147.51 L572.54 147.91 L572.86 148.30 L573.18 148.69 L573.51 149.08 L573.83 149.45 L574.16 149.83 L574.48 150.20 L574.81 150.56 L575.13 150.92 L575.45 151.27 L575.78 151.62 L576.10 151.96 L576.43 152.30 L576.75 152.63 L577.08 152.96 L577.40 153.28 L577.73 153.60 L578.05 153.92 L578.37 154.23 L578.70 154.54 L579.02 154.84 L579.35 155.14 L579.67 155.44 L580.00 155.73 L580.32 156.03 L580.65 156.31 L580.97 156.60 L581.29 156.88 L581.62 157.16 L581.94 157.44 L582.27 157.71 L582.59 157.97 L582.92 158.24 L583.24 158.50 L583.57 158.76 L583.89 159.01 L584.21 159.25 L584.54 159.50 L584.86 159.74 L585.19 159.97 L585.51 160.20 L585.84 160.43 L586.16 160.65 L586.48 160.87 L586.81 161.08 L587.13 161.29 L587.46 161.49 L587.78 161.69 L588.11 161.89 L588.43 162.08 L588.76 162.26 L589.08 162.44 L589.40 162.62 L589.73 162.78 L590.05 162.94 L590.38 163.09 L590.70 163.23 L591.03 163.37 L591.35 163.49 L591.68 163.60 L592.00 163.70" fill="none" stroke="#0072B2" stroke-width="3.0" stroke-linecap="round" stroke-linejoin="round"/>
<path d="M575.60 152.57 L575.85 152.69 L576.10 152.83 L576.36 152.97 L576.61 153.13 L576.86 153.29 L577.11 153.46 L577.37 153.64 L577.62 153.82 L577.87 154.01 L578.12 154.20 L578.37 154.41 L578.63 154.61 L578.88 154.82 L579.13 155.03 L579.38 155.24 L579.63 155.46 L579.89 155.68 L580.14 155.89 L580.39 156.11 L580.64 156.33 L580.90 156.55 L581.15 156.76 L581.40 156.98 L581.65 157.19 L581.90 157.40 L582.16 157.62 L582.41 157.82 L582.66 158.03 L582.91 158.24 L583.17 158.44 L583.42 158.64 L583.67 158.84 L583.92 159.03 L584.17 159.23 L584.43 159.42 L584.68 159.60 L584.93 159.79 L585.18 159.97 L585.43 160.15 L585.69 160.33 L585.94 160.50 L586.19 160.68 L586.44 160.85 L586.70 161.02 L586.95 161.18 L587.20 161.35 L587.45 161.51 L587.70 161.67 L587.96 161.83 L588.21 161.99 L588.46 162.15 L588.71 162.30 L588.97 162.45 L589.22 162.60 L589.47 162.75 L589.72 162.90 L589.97 163.05 L590.23 163.19 L590.48 163.34 L590.73 163.48 L590.98 163.62 L591.23 163.75 L591.49 163.89 L591.74 164.02 L591.99 164.15 L592.24 164.28 L592.50 164.41 L592.75 164.53 L593.00 164.65 L593.25 164.77 L593.50 164.89 L593.76 165.01 L594.01 165.12 L594.26 165.24 L594.51 165.35 L594.77 165.46 L595.02 165.57 L595.27 165.68 L595.52 165.78 L595.77 165.89 L596.03 165.99 L596.28 166.10 L596.53 166.20 L596.78 166.31 L597.03 166.41 L597.29 166.51 L597.54 166.61 L597.79 166.72 L598.04 166.82 L598.30 166.92 L598.55 167.02 L598.80 167.12 L599.05 167.22 L599.30 167.32 L599.56 167.41 L599.81 167.51 L600.06 167.61 L600.31 167.71 L600.57 167.80 L600.82 167.90 L601.07 167.99 L601.32 168.09 L601.57 168.18 L601.83 168.28 L602.08 168.37 L602.33 168.46 L602.58 168.55 L602.83 168.64 L603.09 168.73 L603.34 168.82 L603.59 168.91 L603.84 169.00 L604.10 169.09 L604.35 169.17 L604.60 169.26 L604.85 169.34 L605.10 169.43 L605.36 169.51 L605.61 169.59 L605.86 169.68 L606.11 169.76 L606.37 169.84 L606.62 169.92 L606.87 170.00 L607.12 170.07 L607.37 170.15 L607.63 170.23 L607.88 170.30 L608.13 170.38 L608.38 170.46 L608.63 170.53 L608.89 170.61 L609.14 170.68 L609.39 170.75 L609.64 170.83 L609.90 170.90 L610.15 170.97 L610.40 171.04 L610.65 171.12 L610.90 171.19 L611.16 171.26 L611.41 171.33 L611.66 171.40 L611.91 171.47 L612.17 171.54 L612.42 171.61 L612.67 171.68 L612.92 171.75 L613.17 171.81 L613.43 171.88 L613.68 171.95 L613.93 172.01 L614.18 172.08 L614.43 172.14 L614.69 172.21 L614.94 172.27 L615.19 172.33 L615.44 172.39 L615.70 172.45 L615.95 172.51 L616.20 172.56 L616.45 172.62 L616.70 172.67 L616.96 172.73 L617.21 172.78 L617.46 172.83 L617.71 172.88 L617.97 172.93 L618.22 172.98 L618.47 173.02 L618.72 173.07 L618.97 173.11 L619.23 173.15 L619.48 173.20 L619.73 173.24 L619.98 173.28 L620.23 173.31 L620.49 173.35 L620.74 173.39 L620.99 173.42 L621.24 173.46 L621.50 173.49 L621.75 173.53 L622.00 173.56 L622.25 173.59 L622.50 173.62 L622.76 173.65 L623.01 173.68 L623.26 173.71 L623.51 173.73 L623.77 173.76 L624.02 173.79 L624.27 173.81 L624.52 173.84 L624.77 173.86 L625.03 173.89 L625.28 173.91 L625.53 173.93 L625.78 173.96 L626.03 173.98 L626.29 174.00 L626.54 174.02 L626.79 174.04 L627.04 174.07 L627.30 174.09 L627.55 174.11 L627.80 174.13 L628.05 174.15 L628.30 174.17 L628.56 174.19 L628.81 174.20 L629.06 174.22 L629.31 174.24 L629.57 174.26 L629.82 174.28 L630.07 174.30 L630.32 174.31 L630.57 174.33 L630.83 174.35 L631.08 174.37 L631.33 174.38 L631.58 174.40 L631.83 174.42 L632.09 174.44 L632.34 174.45 L632.59 174.47 L632.84 174.48 L633.10 174.50 L633.35 174.52 L633.60 174.53 L633.85 174.55 L634.10 174.56 L634.36 174.58 L634.61 174.60 L634.86 174.61 L635.11 174.63 L635.37 174.64 L635.62 174.66 L635.87 174.67 L636.12 174.68 L636.37 174.70 L636.63 174.71 L636.88 174.73 L637.13 174.74 L637.38 174.76 L637.63 174.77 L637.89 174.78 L638.14 174.80 L638.39 174.81 L638.64 174.82 L638.90 174.84 L639.15 174.85 L639.40 174.87 L639.65 174.88 L639.90 174.89 L640.16 174.90 L640.41 174.92 L640.66 174.93 L640.91 174.94 L641.17 174.96 L641.42 174.97 L641.67 174.98 L641.92 174.99 L642.17 175.01 L642.43 175.02 L642.68 175.03 L642.93 175.04 L643.18 175.06 L643.43 175.07 L643.69 175.08 L643.94 175.09 L644.19 175.10 L644.44 175.12 L644.70 175.13 L644.95 175.14 L645.20 175.15 L645.45 175.16 L645.70 175.17 L645.96 175.19 L646.21 175.20 L646.46 175.21 L646.71 175.22 L646.97 175.23 L647.22 175.24 L647.47 175.25 L647.72 175.26 L647.97 175.27 L648.23 175.28 L648.48 175.29 L648.73 175.30 L648.98 175.30 L649.23 175.31 L649.49 175.32 L649.74 175.33 L649.99 175.33 L650.24 175.34 L650.50 175.35 L650.75 175.35 L651.00 175.35" fill="none" stroke="#0072B2" stroke-width="2.2" stroke-linecap="round" stroke-linejoin="round"/>
<path d="M575.60 152.57 L575.85 152.69 L576.10 152.83 L576.36 152.97 L576.61 153.12 L576.86 153.28 L577.11 153.45 L577.37 153.63 L577.62 153.81 L577.87 154.00 L578.12 154.19 L578.37 154.39 L578.63 154.59 L578.88 154.80 L579.13 155.01 L579.38 155.22 L579.63 155.43 L579.89 155.65 L580.14 155.86 L580.39 156.08 L580.64 156.30 L580.90 156.52 L581.15 156.73 L581.40 156.95 L581.65 157.17 L581.90 157.39 L582.16 157.61 L582.41 157.83 L582.66 158.05 L582.91 158.28 L583.17 158.50 L583.42 158.72 L583.67 158.95 L583.92 159.18 L584.17 159.40 L584.43 159.63 L584.68 159.86 L584.93 160.09 L585.18 160.33 L585.43 160.56 L585.69 160.79 L585.94 161.03 L586.19 161.26 L586.44 161.49 L586.70 161.72 L586.95 161.95 L587.20 162.18 L587.45 162.41 L587.70 162.63 L587.96 162.86 L588.21 163.08 L588.46 163.29 L588.71 163.51 L588.97 163.72 L589.22 163.92 L589.47 164.13 L589.72 164.33 L589.97 164.52 L590.23 164.72 L590.48 164.91 L590.73 165.09 L590.98 165.27 L591.23 165.45 L591.49 165.63 L591.74 165.80 L591.99 165.97 L592.24 166.14 L592.50 166.31 L592.75 166.47 L593.00 166.63 L593.25 166.79 L593.50 166.94 L593.76 167.09 L594.01 167.24 L594.26 167.39 L594.51 167.53 L594.77 167.68 L595.02 167.81 L595.27 167.95 L595.52 168.08 L595.77 168.21 L596.03 168.34 L596.28 168.46 L596.53 168.58 L596.78 168.70 L597.03 168.82 L597.29 168.93 L597.54 169.03 L597.79 169.14 L598.04 169.24 L598.30 169.33 L598.55 169.43 L598.80 169.52 L599.05 169.61 L599.30 169.69 L599.56 169.78 L599.81 169.86 L600.06 169.93 L600.31 170.01 L600.57 170.08 L600.82 170.15 L601.07 170.22 L601.32 170.29 L601.57 170.35 L601.83 170.41 L602.08 170.47 L602.33 170.53 L602.58 170.59 L602.83 170.65 L603.09 170.70 L603.34 170.76 L603.59 170.81 L603.84 170.87 L604.10 170.92 L604.35 170.97 L604.60 171.02 L604.85 171.07 L605.10 171.12 L605.36 171.17 L605.61 171.22 L605.86 171.27 L606.11 171.32 L606.37 171.37 L606.62 171.41 L606.87 171.46 L607.12 171.51 L607.37 171.56 L607.63 171.60 L607.88 171.65 L608.13 171.70 L608.38 171.75 L608.63 171.79 L608.89 171.84 L609.14 171.88 L609.39 171.93 L609.64 171.97 L609.90 172.02 L610.15 172.06 L610.40 172.11 L610.65 172.15 L610.90 172.19 L611.16 172.24 L611.41 172.28 L611.66 172.32 L611.91 172.36 L612.17 172.40 L612.42 172.44 L612.67 172.49 L612.92 172.53 L613.17 172.56 L613.43 172.60 L613.68 172.64 L613.93 172.68 L614.18 172.72 L614.43 172.76 L614.69 172.79 L614.94 172.83 L615.19 172.87 L615.44 172.90 L615.70 172.94 L615.95 172.97 L616.20 173.01 L616.45 173.04 L616.70 173.08 L616.96 173.11 L617.21 173.14 L617.46 173.17 L617.71 173.21 L617.97 173.24 L618.22 173.27 L618.47 173.30 L618.72 173.33 L618.97 173.36 L619.23 173.39 L619.48 173.42 L619.73 173.45 L619.98 173.48 L620.23 173.51 L620.49 173.54 L620.74 173.57 L620.99 173.59 L621.24 173.62 L621.50 173.65 L621.75 173.67 L622.00 173.70 L622.25 173.73 L622.50 173.75 L622.76 173.78 L623.01 173.80 L623.26 173.83 L623.51 173.85 L623.77 173.88 L624.02 173.90 L624.27 173.93 L624.52 173.95 L624.77 173.97 L625.03 173.99 L625.28 174.02 L625.53 174.04 L625.78 174.06 L626.03 174.08 L626.29 174.11 L626.54 174.13 L626.79 174.15 L627.04 174.17 L627.30 174.19 L627.55 174.21 L627.80 174.23 L628.05 174.25 L628.30 174.27 L628.56 174.28 L628.81 174.30 L629.06 174.32 L629.31 174.34 L629.57 174.35 L629.82 174.37 L630.07 174.39 L630.32 174.41 L630.57 174.42 L630.83 174.44 L631.08 174.45 L631.33 174.47 L631.58 174.48 L631.83 174.50 L632.09 174.51 L632.34 174.53 L632.59 174.54 L632.84 174.55 L633.10 174.57 L633.35 174.58 L633.60 174.59 L633.85 174.61 L634.10 174.62 L634.36 174.63 L634.61 174.65 L634.86 174.66 L635.11 174.67 L635.37 174.68 L635.62 174.70 L635.87 174.71 L636.12 174.72 L636.37 174.73 L636.63 174.74 L636.88 174.76 L637.13 174.77 L637.38 174.78 L637.63 174.79 L637.89 174.80 L638.14 174.81 L638.39 174.83 L638.64 174.84 L638.90 174.85 L639.15 174.86 L639.40 174.87 L639.65 174.88 L639.90 174.90 L640.16 174.91 L640.41 174.92 L640.66 174.93 L640.91 174.94 L641.17 174.96 L641.42 174.97 L641.67 174.98 L641.92 174.99 L642.17 175.00 L642.43 175.01 L642.68 175.03 L642.93 175.04 L643.18 175.05 L643.43 175.06 L643.69 175.07 L643.94 175.08 L644.19 175.10 L644.44 175.11 L644.70 175.12 L644.95 175.13 L645.20 175.14 L645.45 175.15 L645.70 175.16 L645.96 175.17 L646.21 175.19 L646.46 175.20 L646.71 175.21 L646.97 175.22 L647.22 175.23 L647.47 175.24 L647.72 175.25 L647.97 175.26 L648.23 175.27 L648.48 175.28 L648.73 175.29 L648.98 175.30 L649.23 175.31 L649.49 175.31 L649.74 175.32 L649.99 175.33 L650.24 175.34 L650.50 175.34 L650.75 175.35 L651.00 175.35" fill="none" stroke="#0072B2" stroke-width="1.5" stroke-linecap="round" stroke-linejoin="round"/>
<circle cx="443.97" cy="65.97" r="1.4" fill="#0072B2"/>
<circle cx="444.72" cy="68.01" r="1.4" fill="#0072B2"/>
<circle cx="447.06" cy="64.24" r="1.4" fill="#0072B2"/>
<circle cx="452.28" cy="66.32" r="1.4" fill="#0072B2"/>
<circle cx="453.63" cy="66.81" r="1.4" fill="#0072B2"/>
<circle cx="455.82" cy="68.58" r="1.4" fill="#0072B2"/>
<circle cx="459.66" cy="68.17" r="1.4" fill="#0072B2"/>
<circle cx="460.21" cy="67.02" r="1.4" fill="#0072B2"/>
<circle cx="465.19" cy="67.69" r="1.4" fill="#0072B2"/>
<circle cx="465.24" cy="67.83" r="1.4" fill="#0072B2"/>
<circle cx="465.55" cy="69.84" r="1.4" fill="#0072B2"/>
<circle cx="466.02" cy="67.74" r="1.4" fill="#0072B2"/>
<circle cx="468.51" cy="68.21" r="1.4" fill="#0072B2"/>
<circle cx="469.11" cy="68.98" r="1.4" fill="#0072B2"/>
<circle cx="470.14" cy="68.62" r="1.4" fill="#0072B2"/>
<circle cx="470.16" cy="68.54" r="1.4" fill="#0072B2"/>
<circle cx="470.85" cy="67.69" r="1.4" fill="#0072B2"/>
<circle cx="471.81" cy="68.95" r="1.4" fill="#0072B2"/>
<circle cx="472.34" cy="68.59" r="1.4" fill="#0072B2"/>
<circle cx="472.81" cy="70.26" r="1.4" fill="#0072B2"/>
<circle cx="473.62" cy="69.86" r="1.4" fill="#0072B2"/>
<circle cx="474.30" cy="69.29" r="1.4" fill="#0072B2"/>
<circle cx="475.61" cy="70.15" r="1.4" fill="#0072B2"/>
<circle cx="475.78" cy="69.22" r="1.4" fill="#0072B2"/>
<circle cx="476.94" cy="70.70" r="1.4" fill="#0072B2"/>
<circle cx="479.07" cy="70.08" r="1.4" fill="#0072B2"/>
<circle cx="479.51" cy="70.68" r="1.4" fill="#0072B2"/>
<circle cx="480.04" cy="69.11" r="1.4" fill="#0072B2"/>
<circle cx="480.47" cy="70.64" r="1.4" fill="#0072B2"/>
<circle cx="481.24" cy="69.01" r="1.4" fill="#0072B2"/>
<circle cx="483.13" cy="69.14" r="1.4" fill="#0072B2"/>
<circle cx="483.36" cy="70.63" r="1.4" fill="#0072B2"/>
<circle cx="484.38" cy="70.35" r="1.4" fill="#0072B2"/>
<circle cx="484.46" cy="71.24" r="1.4" fill="#0072B2"/>
<circle cx="485.82" cy="73.17" r="1.4" fill="#0072B2"/>
<circle cx="486.17" cy="70.81" r="1.4" fill="#0072B2"/>
<circle cx="486.32" cy="71.00" r="1.4" fill="#0072B2"/>
<circle cx="486.41" cy="71.68" r="1.4" fill="#0072B2"/>
<circle cx="486.61" cy="71.94" r="1.4" fill="#0072B2"/>
<circle cx="486.64" cy="71.43" r="1.4" fill="#0072B2"/>
<circle cx="487.82" cy="71.67" r="1.4" fill="#0072B2"/>
<circle cx="488.36" cy="72.48" r="1.4" fill="#0072B2"/>
<circle cx="489.93" cy="72.70" r="1.4" fill="#0072B2"/>
<circle cx="490.27" cy="71.65" r="1.4" fill="#0072B2"/>
<circle cx="490.56" cy="72.41" r="1.4" fill="#0072B2"/>
<circle cx="490.87" cy="72.57" r="1.4" fill="#0072B2"/>
<circle cx="491.27" cy="71.89" r="1.4" fill="#0072B2"/>
<circle cx="491.39" cy="72.86" r="1.4" fill="#0072B2"/>
<circle cx="491.56" cy="72.11" r="1.4" fill="#0072B2"/>
<circle cx="491.92" cy="73.49" r="1.4" fill="#0072B2"/>
<circle cx="491.99" cy="72.96" r="1.4" fill="#0072B2"/>
<circle cx="493.46" cy="73.27" r="1.4" fill="#0072B2"/>
<circle cx="494.07" cy="72.98" r="1.4" fill="#0072B2"/>
<circle cx="495.98" cy="73.85" r="1.4" fill="#0072B2"/>
<circle cx="497.25" cy="73.08" r="1.4" fill="#0072B2"/>
<circle cx="497.87" cy="73.83" r="1.4" fill="#0072B2"/>
<circle cx="498.03" cy="74.79" r="1.4" fill="#0072B2"/>
<circle cx="498.73" cy="73.53" r="1.4" fill="#0072B2"/>
<circle cx="498.90" cy="75.36" r="1.4" fill="#0072B2"/>
<circle cx="499.22" cy="73.93" r="1.4" fill="#0072B2"/>
<circle cx="499.83" cy="75.60" r="1.4" fill="#0072B2"/>
<circle cx="500.67" cy="74.98" r="1.4" fill="#0072B2"/>
<circle cx="500.75" cy="75.93" r="1.4" fill="#0072B2"/>
<circle cx="500.99" cy="75.65" r="1.4" fill="#0072B2"/>
<circle cx="501.57" cy="74.93" r="1.4" fill="#0072B2"/>
<circle cx="502.25" cy="76.71" r="1.4" fill="#0072B2"/>
<circle cx="503.95" cy="77.42" r="1.4" fill="#0072B2"/>
<circle cx="504.31" cy="76.79" r="1.4" fill="#0072B2"/>
<circle cx="504.64" cy="76.81" r="1.4" fill="#0072B2"/>
<circle cx="504.85" cy="76.96" r="1.4" fill="#0072B2"/>
<rect x="449.96" y="89.07" width="2.6" height="2.6" fill="#CC79A7"/>
<rect x="451.14" y="88.37" width="2.6" height="2.6" fill="#CC79A7"/>
<rect x="451.81" y="88.68" width="2.6" height="2.6" fill="#CC79A7"/>
<rect x="455.46" y="89.93" width="2.6" height="2.6" fill="#CC79A7"/>
<rect x="455.52" y="91.02" width="2.6" height="2.6" fill="#CC79A7"/>
<rect x="460.14" y="92.48" width="2.6" height="2.6" fill="#CC79A7"/>
<rect x="461.22" y="92.75" width="2.6" height="2.6" fill="#CC79A7"/>
<rect x="461.77" y="92.23" width="2.6" height="2.6" fill="#CC79A7"/>
<rect x="463.75" y="92.64" width="2.6" height="2.6" fill="#CC79A7"/>
<rect x="466.39" y="95.94" width="2.6" height="2.6" fill="#CC79A7"/>
<rect x="467.54" y="96.60" width="2.6" height="2.6" fill="#CC79A7"/>
<rect x="470.25" y="97.39" width="2.6" height="2.6" fill="#CC79A7"/>
<rect x="470.77" y="98.17" width="2.6" height="2.6" fill="#CC79A7"/>
<rect x="470.78" y="98.34" width="2.6" height="2.6" fill="#CC79A7"/>
<rect x="471.36" y="98.72" width="2.6" height="2.6" fill="#CC79A7"/>
<rect x="471.49" y="98.85" width="2.6" height="2.6" fill="#CC79A7"/>
<rect x="472.83" y="98.75" width="2.6" height="2.6" fill="#CC79A7"/>
<rect x="473.31" y="100.33" width="2.6" height="2.6" fill="#CC79A7"/>
<rect x="474.74" y="99.47" width="2.6" height="2.6" fill="#CC79A7"/>
<rect x="474.87" y="100.87" width="2.6" height="2.6" fill="#CC79A7"/>
<rect x="476.80" y="101.91" width="2.6" height="2.6" fill="#CC79A7"/>
<rect x="477.26" y="102.45" width="2.6" height="2.6" fill="#CC79A7"/>
<rect x="477.55" y="103.24" width="2.6" height="2.6" fill="#CC79A7"/>
<rect x="478.33" y="103.55" width="2.6" height="2.6" fill="#CC79A7"/>
<rect x="478.37" y="102.10" width="2.6" height="2.6" fill="#CC79A7"/>
<rect x="478.55" y="101.93" width="2.6" height="2.6" fill="#CC79A7"/>
<rect x="479.30" y="103.90" width="2.6" height="2.6" fill="#CC79A7"/>
<rect x="479.82" y="103.31" width="2.6" height="2.6" fill="#CC79A7"/>
<rect x="481.04" y="104.86" width="2.6" height="2.6" fill="#CC79A7"/>
<rect x="481.42" y="105.62" width="2.6" height="2.6" fill="#CC79A7"/>
<rect x="481.79" y="104.67" width="2.6" height="2.6" fill="#CC79A7"/>
<rect x="482.40" y="104.99" width="2.6" height="2.6" fill="#CC79A7"/>
<rect x="483.48" y="107.14" width="2.6" height="2.6" fill="#CC79A7"/>
<rect x="483.59" y="107.14" width="2.6" height="2.6" fill="#CC79A7"/>
<rect x="483.84" y="107.24" width="2.6" height="2.6" fill="#CC79A7"/>
<rect x="484.53" y="108.01" width="2.6" height="2.6" fill="#CC79A7"/>
<rect x="485.54" y="108.55" width="2.6" height="2.6" fill="#CC79A7"/>
<rect x="485.56" y="108.27" width="2.6" height="2.6" fill="#CC79A7"/>
<rect x="486.48" y="109.75" width="2.6" height="2.6" fill="#CC79A7"/>
<rect x="486.54" y="109.45" width="2.6" height="2.6" fill="#CC79A7"/>
<rect x="486.54" y="109.17" width="2.6" height="2.6" fill="#CC79A7"/>
<rect x="486.73" y="110.28" width="2.6" height="2.6" fill="#CC79A7"/>
<rect x="487.46" y="110.73" width="2.6" height="2.6" fill="#CC79A7"/>
<rect x="487.72" y="111.18" width="2.6" height="2.6" fill="#CC79A7"/>
<rect x="487.98" y="110.85" width="2.6" height="2.6" fill="#CC79A7"/>
<path d="M463.56 135.15L465.26 138.15L461.86 138.15Z" fill="#56B4E9"/>
<path d="M467.47 140.82L469.17 143.82L465.77 143.82Z" fill="#56B4E9"/>
<path d="M467.69 137.89L469.39 140.89L465.99 140.89Z" fill="#56B4E9"/>
<path d="M467.71 139.39L469.41 142.39L466.01 142.39Z" fill="#56B4E9"/>
<path d="M468.81 140.44L470.51 143.44L467.11 143.44Z" fill="#56B4E9"/>
<path d="M470.29 139.93L471.99 142.93L468.59 142.93Z" fill="#56B4E9"/>
<path d="M470.31 143.72L472.01 146.72L468.61 146.72Z" fill="#56B4E9"/>
<path d="M470.41 143.46L472.11 146.46L468.71 146.46Z" fill="#56B4E9"/>
<path d="M470.43 141.10L472.13 144.10L468.73 144.10Z" fill="#56B4E9"/>
<path d="M471.66 143.47L473.36 146.47L469.96 146.47Z" fill="#56B4E9"/>
<path d="M473.75 144.37L475.45 147.37L472.05 147.37Z" fill="#56B4E9"/>
<path d="M473.77 140.98L475.47 143.98L472.07 143.98Z" fill="#56B4E9"/>
<path d="M474.91 144.98L476.61 147.98L473.21 147.98Z" fill="#56B4E9"/>
<path d="M475.09 144.75L476.79 147.75L473.39 147.75Z" fill="#56B4E9"/>
<path d="M475.64 145.27L477.34 148.27L473.94 148.27Z" fill="#56B4E9"/>
<path d="M476.61 144.71L478.31 147.71L474.91 147.71Z" fill="#56B4E9"/>
<path d="M476.82 145.71L478.52 148.71L475.12 148.71Z" fill="#56B4E9"/>
<path d="M477.45 146.25L479.15 149.25L475.75 149.25Z" fill="#56B4E9"/>
<path d="M477.53 147.71L479.23 150.71L475.83 150.71Z" fill="#56B4E9"/>
<path d="M478.73 147.71L480.43 150.71L477.03 150.71Z" fill="#56B4E9"/>
<path d="M478.87 147.48L480.57 150.48L477.17 150.48Z" fill="#56B4E9"/>
<path d="M478.94 149.04L480.64 152.04L477.24 152.04Z" fill="#56B4E9"/>
<path d="M478.98 147.02L480.68 150.02L477.28 150.02Z" fill="#56B4E9"/>
<path d="M480.97 148.79L482.67 151.79L479.27 151.79Z" fill="#56B4E9"/>
<path d="M481.00 147.49L482.70 150.49L479.30 150.49Z" fill="#56B4E9"/>
<path d="M482.97 152.15L484.67 155.15L481.27 155.15Z" fill="#56B4E9"/>
<path d="M483.53 152.06L485.23 155.06L481.83 155.06Z" fill="#56B4E9"/>
<path d="M483.87 152.29L485.57 155.29L482.17 155.29Z" fill="#56B4E9"/>
<path d="M485.43 153.31L487.13 156.31L483.73 156.31Z" fill="#56B4E9"/>
<path d="M485.56 152.97L487.26 155.97L483.86 155.97Z" fill="#56B4E9"/>
<path d="M485.67 153.14L487.37 156.14L483.97 156.14Z" fill="#56B4E9"/>
<path d="M486.89 153.73L488.59 156.73L485.19 156.73Z" fill="#56B4E9"/>
<path d="M487.50 154.24L489.20 157.24L485.80 157.24Z" fill="#56B4E9"/>
<path d="M487.70 154.58L489.40 157.58L486.00 157.58Z" fill="#56B4E9"/>
<path d="M488.99 156.55L490.69 159.55L487.29 159.55Z" fill="#56B4E9"/>
<path d="M489.03 155.92L490.73 158.92L487.33 158.92Z" fill="#56B4E9"/>
<path d="M489.66 155.98L491.36 158.98L487.96 158.98Z" fill="#56B4E9"/>
<path d="M490.13 155.98L491.83 158.98L488.43 158.98Z" fill="#56B4E9"/>
<path d="M490.37 156.13L492.07 159.13L488.67 159.13Z" fill="#56B4E9"/>
<path d="M491.05 158.04L492.75 161.04L489.35 161.04Z" fill="#56B4E9"/>
<circle cx="437.15" cy="175.55" r="1.5" fill="#F0E442"/>
<circle cx="437.73" cy="174.67" r="1.5" fill="#F0E442"/>
<circle cx="438.65" cy="176.32" r="1.5" fill="#F0E442"/>
<circle cx="439.38" cy="175.53" r="1.5" fill="#F0E442"/>
<circle cx="440.27" cy="175.90" r="1.5" fill="#F0E442"/>
<circle cx="440.69" cy="175.74" r="1.5" fill="#F0E442"/>
<circle cx="441.74" cy="176.77" r="1.5" fill="#F0E442"/>
<circle cx="442.60" cy="176.66" r="1.5" fill="#F0E442"/>
<circle cx="444.12" cy="176.11" r="1.5" fill="#F0E442"/>
<circle cx="444.32" cy="176.68" r="1.5" fill="#F0E442"/>
<circle cx="445.33" cy="175.92" r="1.5" fill="#F0E442"/>
<circle cx="446.30" cy="178.53" r="1.5" fill="#F0E442"/>
<circle cx="446.92" cy="176.97" r="1.5" fill="#F0E442"/>
<circle cx="447.52" cy="177.62" r="1.5" fill="#F0E442"/>
<circle cx="448.29" cy="176.74" r="1.5" fill="#F0E442"/>
<circle cx="449.88" cy="177.18" r="1.5" fill="#F0E442"/>
<circle cx="450.66" cy="179.42" r="1.5" fill="#F0E442"/>
<circle cx="451.24" cy="178.95" r="1.5" fill="#F0E442"/>
<circle cx="452.59" cy="178.68" r="1.5" fill="#F0E442"/>
<circle cx="452.66" cy="178.09" r="1.5" fill="#F0E442"/>
<circle cx="453.68" cy="180.69" r="1.5" fill="#F0E442"/>
<circle cx="454.79" cy="179.07" r="1.5" fill="#F0E442"/>
<circle cx="455.08" cy="179.73" r="1.5" fill="#F0E442"/>
<circle cx="456.25" cy="180.25" r="1.5" fill="#F0E442"/>
<circle cx="457.06" cy="180.91" r="1.5" fill="#F0E442"/>
<circle cx="457.74" cy="180.86" r="1.5" fill="#F0E442"/>
<circle cx="458.73" cy="181.02" r="1.5" fill="#F0E442"/>
<circle cx="459.65" cy="182.76" r="1.5" fill="#F0E442"/>
<circle cx="460.51" cy="181.46" r="1.5" fill="#F0E442"/>
<circle cx="460.66" cy="181.86" r="1.5" fill="#F0E442"/>
<circle cx="461.42" cy="180.54" r="1.5" fill="#F0E442"/>
<circle cx="463.09" cy="182.34" r="1.5" fill="#F0E442"/>
<circle cx="463.62" cy="180.51" r="1.5" fill="#F0E442"/>
<circle cx="464.39" cy="181.43" r="1.5" fill="#F0E442"/>
<circle cx="465.52" cy="183.87" r="1.5" fill="#F0E442"/>
<circle cx="466.23" cy="181.52" r="1.5" fill="#F0E442"/>
<circle cx="466.65" cy="182.19" r="1.5" fill="#F0E442"/>
<circle cx="467.78" cy="181.40" r="1.5" fill="#F0E442"/>
<circle cx="468.70" cy="181.49" r="1.5" fill="#F0E442"/>
<circle cx="469.83" cy="183.36" r="1.5" fill="#F0E442"/>
<circle cx="470.66" cy="182.22" r="1.5" fill="#F0E442"/>
<circle cx="471.32" cy="182.58" r="1.5" fill="#F0E442"/>
<circle cx="471.88" cy="182.51" r="1.5" fill="#F0E442"/>
<circle cx="472.44" cy="181.71" r="1.5" fill="#F0E442"/>
<circle cx="473.90" cy="182.80" r="1.5" fill="#F0E442"/>
<circle cx="474.56" cy="183.84" r="1.5" fill="#F0E442"/>
<circle cx="474.81" cy="182.49" r="1.5" fill="#F0E442"/>
<circle cx="476.22" cy="183.51" r="1.5" fill="#F0E442"/>
<circle cx="476.89" cy="184.10" r="1.5" fill="#F0E442"/>
<circle cx="477.90" cy="182.38" r="1.5" fill="#F0E442"/>
<circle cx="478.39" cy="184.06" r="1.5" fill="#F0E442"/>
<circle cx="479.64" cy="181.97" r="1.5" fill="#F0E442"/>
<circle cx="480.74" cy="184.04" r="1.5" fill="#F0E442"/>
<circle cx="481.57" cy="183.32" r="1.5" fill="#F0E442"/>
<circle cx="481.91" cy="182.79" r="1.5" fill="#F0E442"/>
<circle cx="406.90" cy="98.00" r="1.45" fill="#0072B2"/>
<circle cx="419.00" cy="54.80" r="1.45" fill="#0072B2"/>
<circle cx="430.70" cy="60.70" r="1.45" fill="#0072B2"/>
<circle cx="434.60" cy="64.80" r="1.45" fill="#0072B2"/>
<circle cx="425.80" cy="70.90" r="1.45" fill="#0072B2"/>
<circle cx="437.60" cy="70.40" r="1.45" fill="#0072B2"/>
<circle cx="440.40" cy="67.60" r="1.45" fill="#0072B2"/>
<circle cx="442.50" cy="65.40" r="1.45" fill="#0072B2"/>
<circle cx="444.90" cy="69.20" r="1.45" fill="#0072B2"/>
<circle cx="446.50" cy="66.40" r="1.45" fill="#0072B2"/>
<circle cx="448.20" cy="65.20" r="1.45" fill="#0072B2"/>
<circle cx="450.20" cy="67.20" r="1.45" fill="#0072B2"/>
<circle cx="452.20" cy="66.00" r="1.45" fill="#0072B2"/>
<circle cx="453.90" cy="68.40" r="1.45" fill="#0072B2"/>
<circle cx="455.50" cy="66.80" r="1.45" fill="#0072B2"/>
<circle cx="457.50" cy="70.00" r="1.45" fill="#0072B2"/>
<circle cx="459.10" cy="67.20" r="1.45" fill="#0072B2"/>
<circle cx="461.00" cy="68.60" r="1.45" fill="#0072B2"/>
<circle cx="463.00" cy="67.40" r="1.45" fill="#0072B2"/>
<circle cx="465.00" cy="69.60" r="1.45" fill="#0072B2"/>
<rect x="405.55" y="107.95" width="2.7" height="2.7" fill="#CC79A7"/>
<rect x="417.65" y="79.65" width="2.7" height="2.7" fill="#CC79A7"/>
<rect x="429.45" y="77.05" width="2.7" height="2.7" fill="#CC79A7"/>
<rect x="424.55" y="86.55" width="2.7" height="2.7" fill="#CC79A7"/>
<rect x="433.25" y="84.75" width="2.7" height="2.7" fill="#CC79A7"/>
<rect x="436.35" y="87.85" width="2.7" height="2.7" fill="#CC79A7"/>
<rect x="438.95" y="84.35" width="2.7" height="2.7" fill="#CC79A7"/>
<rect x="442.55" y="86.95" width="2.7" height="2.7" fill="#CC79A7"/>
<rect x="445.35" y="85.65" width="2.7" height="2.7" fill="#CC79A7"/>
<rect x="448.15" y="87.05" width="2.7" height="2.7" fill="#CC79A7"/>
<rect x="450.95" y="87.05" width="2.7" height="2.7" fill="#CC79A7"/>
<rect x="453.85" y="89.15" width="2.7" height="2.7" fill="#CC79A7"/>
<rect x="456.65" y="89.85" width="2.7" height="2.7" fill="#CC79A7"/>
<path d="M406.90 119.20L408.60 122.20L405.20 122.20Z" fill="#56B4E9"/>
<path d="M418.80 97.20L420.50 100.20L417.10 100.20Z" fill="#56B4E9"/>
<path d="M434.70 101.50L436.40 104.50L433.00 104.50Z" fill="#56B4E9"/>
<path d="M431.00 106.40L432.70 109.40L429.30 109.40Z" fill="#56B4E9"/>
<path d="M425.70 116.30L427.40 119.30L424.00 119.30Z" fill="#56B4E9"/>
<path d="M442.60 113.40L444.30 116.40L440.90 116.40Z" fill="#56B4E9"/>
<path d="M444.20 109.90L445.90 112.90L442.50 112.90Z" fill="#56B4E9"/>
<path d="M437.90 118.40L439.60 121.40L436.20 121.40Z" fill="#56B4E9"/>
<path d="M446.60 119.60L448.30 122.60L444.90 122.60Z" fill="#56B4E9"/>
<path d="M452.50 119.60L454.20 122.60L450.80 122.60Z" fill="#56B4E9"/>
<path d="M453.60 121.40L455.30 124.40L451.90 124.40Z" fill="#56B4E9"/>
<path d="M440.80 126.00L442.50 129.00L439.10 129.00Z" fill="#56B4E9"/>
<path d="M449.00 126.50L450.70 129.50L447.30 129.50Z" fill="#56B4E9"/>
<path d="M459.10 127.60L460.80 130.60L457.40 130.60Z" fill="#56B4E9"/>
<path d="M463.50 125.30L465.20 128.30L461.80 128.30Z" fill="#56B4E9"/>
<path d="M463.10 129.50L464.80 132.50L461.40 132.50Z" fill="#56B4E9"/>
<path d="M466.00 129.20L467.70 132.20L464.30 132.20Z" fill="#56B4E9"/>
<path d="M457.00 131.30L458.70 134.30L455.30 134.30Z" fill="#56B4E9"/>
<path d="M455.90 132.00L457.60 135.00L454.20 135.00Z" fill="#56B4E9"/>
<path d="M461.20 135.50L462.90 138.50L459.50 138.50Z" fill="#56B4E9"/>
<path d="M468.10 135.50L469.80 138.50L466.40 138.50Z" fill="#56B4E9"/>
<path d="M462.80 137.10L464.50 140.10L461.10 140.10Z" fill="#56B4E9"/>
<path d="M468.60 137.10L470.30 140.10L466.90 140.10Z" fill="#56B4E9"/>
<path d="M464.80 147.20L466.50 150.20L463.10 150.20Z" fill="#56B4E9"/>
<path d="M467.40 145.60L469.10 148.60L465.70 148.60Z" fill="#56B4E9"/>
<path d="M462.10 138.70L463.80 141.70L460.40 141.70Z" fill="#56B4E9"/>
<path d="M469.00 136.50L470.70 139.50L467.30 139.50Z" fill="#56B4E9"/>
<path d="M461.00 128.60L462.70 131.60L459.30 131.60Z" fill="#56B4E9"/>
<path d="M465.50 147.50L467.20 150.50L463.80 150.50Z" fill="#56B4E9"/>
<path d="M473.20 143.90L474.90 146.90L471.50 146.90Z" fill="#56B4E9"/>
<path d="M476.80 146.70L478.50 149.70L475.10 149.70Z" fill="#56B4E9"/>
<circle cx="406.90" cy="156.60" r="1.5" fill="#F0E442"/>
<circle cx="418.80" cy="144.60" r="1.5" fill="#F0E442"/>
<circle cx="425.70" cy="168.90" r="1.5" fill="#F0E442"/>
<circle cx="431.00" cy="168.90" r="1.5" fill="#F0E442"/>
<circle cx="434.90" cy="164.80" r="1.5" fill="#F0E442"/>
<circle cx="446.10" cy="179.80" r="1.5" fill="#F0E442"/>
<circle cx="454.60" cy="183.60" r="1.5" fill="#F0E442"/>
<path d="M407.10 156.64 L407.92 156.75 L408.73 156.89 L409.55 157.06 L410.36 157.24 L411.18 157.45 L411.99 157.66 L412.81 157.89 L413.63 158.13 L414.44 158.37 L415.26 158.62 L416.07 158.88 L416.89 159.15 L417.70 159.42 L418.52 159.71 L419.34 160.00 L420.15 160.31 L420.97 160.63 L421.78 160.97 L422.60 161.32 L423.41 161.69 L424.23 162.09 L425.05 162.50 L425.86 162.94 L426.68 163.40 L427.49 163.88 L428.31 164.38 L429.12 164.89 L429.94 165.40 L430.76 165.92 L431.57 166.44 L432.39 166.97 L433.20 167.49 L434.02 168.02 L434.83 168.55 L435.65 169.08 L436.47 169.61 L437.28 170.14 L438.10 170.67 L438.91 171.21 L439.73 171.74 L440.54 172.27 L441.36 172.81 L442.18 173.34 L442.99 173.88 L443.81 174.43 L444.62 174.97 L445.44 175.53 L446.25 176.08 L447.07 176.64 L447.89 177.21 L448.70 177.77 L449.52 178.33 L450.33 178.88 L451.15 179.42 L451.96 179.95 L452.78 180.46 L453.60 180.95 L454.41 181.41 L455.23 181.84 L456.04 182.24 L456.86 182.59 L457.67 182.91 L458.49 183.20 L459.31 183.45 L460.12 183.67 L460.94 183.85 L461.75 184.01 L462.57 184.15 L463.38 184.26 L464.20 184.35 L465.02 184.43 L465.83 184.50 L466.65 184.56 L467.46 184.61 L468.28 184.66 L469.09 184.70 L469.91 184.73 L470.73 184.77 L471.54 184.80 L472.36 184.82 L473.17 184.85 L473.99 184.87 L474.80 184.89 L475.62 184.91 L476.44 184.92 L477.25 184.94 L478.07 184.95 L478.88 184.97 L479.70 184.98 L480.51 184.99 L481.33 185.01 L482.15 185.02 L482.96 185.03 L483.78 185.04 L484.59 185.05 L485.41 185.06 L486.22 185.07 L487.04 185.08 L487.86 185.09 L488.67 185.10 L489.49 185.11 L490.30 185.12 L491.12 185.12 L491.93 185.13 L492.75 185.14 L493.57 185.15 L494.38 185.15 L495.20 185.16 L496.01 185.17 L496.83 185.17 L497.64 185.18 L498.46 185.19 L499.28 185.19 L500.09 185.20 L500.91 185.21 L501.72 185.21 L502.54 185.22 L503.35 185.22 L504.17 185.23 L504.99 185.24 L505.80 185.24 L506.62 185.25 L507.43 185.25 L508.25 185.26 L509.06 185.26 L509.88 185.27 L510.70 185.28 L511.51 185.28 L512.33 185.29 L513.14 185.29 L513.96 185.30 L514.77 185.30 L515.59 185.31 L516.41 185.31 L517.22 185.32 L518.04 185.32 L518.85 185.33 L519.67 185.33 L520.48 185.34 L521.30 185.34 L522.12 185.35 L522.93 185.35 L523.75 185.36 L524.56 185.36 L525.38 185.37 L526.19 185.37 L527.01 185.38 L527.83 185.38 L528.64 185.38 L529.46 185.39 L530.27 185.39 L531.09 185.40 L531.91 185.40 L532.72 185.41 L533.54 185.41 L534.35 185.41 L535.17 185.42 L535.98 185.42 L536.80 185.42 L537.62 185.43 L538.43 185.43 L539.25 185.44 L540.06 185.44 L540.88 185.44 L541.69 185.45 L542.51 185.45 L543.33 185.45 L544.14 185.45 L544.96 185.46 L545.77 185.46 L546.59 185.46 L547.40 185.47 L548.22 185.47 L549.04 185.47 L549.85 185.47 L550.67 185.48 L551.48 185.48 L552.30 185.48 L553.11 185.48 L553.93 185.49 L554.75 185.49 L555.56 185.49 L556.38 185.49 L557.19 185.49 L558.01 185.50 L558.82 185.50 L559.64 185.50 L560.46 185.50 L561.27 185.50 L562.09 185.50 L562.90 185.51 L563.72 185.51 L564.53 185.51 L565.35 185.51 L566.17 185.51 L566.98 185.51 L567.80 185.51 L568.61 185.52 L569.43 185.52 L570.24 185.52 L571.06 185.52 L571.88 185.52 L572.69 185.52 L573.51 185.52 L574.32 185.53 L575.14 185.53 L575.95 185.53 L576.77 185.53 L577.59 185.53 L578.40 185.53 L579.22 185.53 L580.03 185.54 L580.85 185.54 L581.66 185.54 L582.48 185.54 L583.30 185.54 L584.11 185.54 L584.93 185.54 L585.74 185.54 L586.56 185.55 L587.37 185.55 L588.19 185.55 L589.01 185.55 L589.82 185.55 L590.64 185.55 L591.45 185.55 L592.27 185.55 L593.08 185.56 L593.90 185.56 L594.72 185.56 L595.53 185.56 L596.35 185.56 L597.16 185.56 L597.98 185.56 L598.79 185.56 L599.61 185.56 L600.43 185.57 L601.24 185.57 L602.06 185.57 L602.87 185.57 L603.69 185.57 L604.50 185.57 L605.32 185.57 L606.14 185.57 L606.95 185.57 L607.77 185.57 L608.58 185.57 L609.40 185.58 L610.21 185.58 L611.03 185.58 L611.85 185.58 L612.66 185.58 L613.48 185.58 L614.29 185.58 L615.11 185.58 L615.92 185.58 L616.74 185.58 L617.56 185.58 L618.37 185.58 L619.19 185.59 L620.00 185.59 L620.82 185.59 L621.63 185.59 L622.45 185.59 L623.27 185.59 L624.08 185.59 L624.90 185.59 L625.71 185.59 L626.53 185.59 L627.34 185.59 L628.16 185.59 L628.98 185.59 L629.79 185.59 L630.61 185.59 L631.42 185.59 L632.24 185.59 L633.05 185.60 L633.87 185.60 L634.69 185.60 L635.50 185.60 L636.32 185.60 L637.13 185.60 L637.95 185.60 L638.76 185.60 L639.58 185.60 L640.40 185.60 L641.21 185.60 L642.03 185.60 L642.84 185.60 L643.66 185.60 L644.47 185.60 L645.29 185.60 L646.11 185.60 L646.92 185.60 L647.74 185.60 L648.55 185.60 L649.37 185.60 L650.18 185.60 L651.00 185.60" fill="none" stroke="#000" stroke-width="0.75"/>
<path d="M407.10 104.67 L407.92 104.80 L408.73 104.95 L409.55 105.14 L410.36 105.35 L411.18 105.57 L411.99 105.81 L412.81 106.06 L413.63 106.32 L414.44 106.59 L415.26 106.87 L416.07 107.15 L416.89 107.44 L417.70 107.73 L418.52 108.03 L419.34 108.33 L420.15 108.64 L420.97 108.96 L421.78 109.29 L422.60 109.62 L423.41 109.96 L424.23 110.32 L425.05 110.68 L425.86 111.05 L426.68 111.42 L427.49 111.81 L428.31 112.21 L429.12 112.62 L429.94 113.03 L430.76 113.46 L431.57 113.90 L432.39 114.35 L433.20 114.81 L434.02 115.29 L434.83 115.77 L435.65 116.27 L436.47 116.77 L437.28 117.28 L438.10 117.79 L438.91 118.31 L439.73 118.83 L440.54 119.34 L441.36 119.86 L442.18 120.38 L442.99 120.90 L443.81 121.43 L444.62 121.95 L445.44 122.48 L446.25 123.01 L447.07 123.55 L447.89 124.09 L448.70 124.63 L449.52 125.18 L450.33 125.73 L451.15 126.29 L451.96 126.85 L452.78 127.41 L453.60 127.98 L454.41 128.55 L455.23 129.13 L456.04 129.72 L456.86 130.32 L457.67 130.92 L458.49 131.54 L459.31 132.17 L460.12 132.82 L460.94 133.49 L461.75 134.17 L462.57 134.87 L463.38 135.59 L464.20 136.33 L465.02 137.08 L465.83 137.84 L466.65 138.60 L467.46 139.37 L468.28 140.12 L469.09 140.87 L469.91 141.61 L470.73 142.33 L471.54 143.04 L472.36 143.74 L473.17 144.43 L473.99 145.11 L474.80 145.79 L475.62 146.46 L476.44 147.13 L477.25 147.80 L478.07 148.48 L478.88 149.15 L479.70 149.83 L480.51 150.50 L481.33 151.18 L482.15 151.85 L482.96 152.52 L483.78 153.18 L484.59 153.83 L485.41 154.47 L486.22 155.11 L487.04 155.74 L487.86 156.36 L488.67 156.98 L489.49 157.58 L490.30 158.19 L491.12 158.79 L491.93 159.38 L492.75 159.97 L493.57 160.54 L494.38 161.11 L495.20 161.67 L496.01 162.21 L496.83 162.73 L497.64 163.24 L498.46 163.73 L499.28 164.21 L500.09 164.66 L500.91 165.09 L501.72 165.50 L502.54 165.89 L503.35 166.27 L504.17 166.63 L504.99 166.98 L505.80 167.31 L506.62 167.64 L507.43 167.97 L508.25 168.28 L509.06 168.59 L509.88 168.88 L510.70 169.17 L511.51 169.44 L512.33 169.71 L513.14 169.96 L513.96 170.20 L514.77 170.43 L515.59 170.65 L516.41 170.86 L517.22 171.07 L518.04 171.26 L518.85 171.44 L519.67 171.61 L520.48 171.76 L521.30 171.91 L522.12 172.04 L522.93 172.15 L523.75 172.26 L524.56 172.36 L525.38 172.44 L526.19 172.52 L527.01 172.59 L527.83 172.65 L528.64 172.70 L529.46 172.75 L530.27 172.78 L531.09 172.82 L531.91 172.85 L532.72 172.88 L533.54 172.90 L534.35 172.92 L535.17 172.94 L535.98 172.96 L536.80 172.98 L537.62 173.00 L538.43 173.02 L539.25 173.04 L540.06 173.05 L540.88 173.07 L541.69 173.09 L542.51 173.10 L543.33 173.11 L544.14 173.13 L544.96 173.14 L545.77 173.15 L546.59 173.16 L547.40 173.17 L548.22 173.18 L549.04 173.19 L549.85 173.20 L550.67 173.21 L551.48 173.22 L552.30 173.23 L553.11 173.24 L553.93 173.25 L554.75 173.26 L555.56 173.26 L556.38 173.27 L557.19 173.28 L558.01 173.28 L558.82 173.29 L559.64 173.30 L560.46 173.30 L561.27 173.31 L562.09 173.32 L562.90 173.32 L563.72 173.33 L564.53 173.33 L565.35 173.34 L566.17 173.35 L566.98 173.35 L567.80 173.36 L568.61 173.36 L569.43 173.37 L570.24 173.38 L571.06 173.38 L571.88 173.39 L572.69 173.39 L573.51 173.40 L574.32 173.40 L575.14 173.41 L575.95 173.42 L576.77 173.42 L577.59 173.43 L578.40 173.43 L579.22 173.44 L580.03 173.44 L580.85 173.45 L581.66 173.45 L582.48 173.46 L583.30 173.46 L584.11 173.47 L584.93 173.47 L585.74 173.48 L586.56 173.48 L587.37 173.49 L588.19 173.49 L589.01 173.50 L589.82 173.50 L590.64 173.51 L591.45 173.51 L592.27 173.52 L593.08 173.52 L593.90 173.53 L594.72 173.53 L595.53 173.54 L596.35 173.54 L597.16 173.55 L597.98 173.55 L598.79 173.55 L599.61 173.56 L600.43 173.56 L601.24 173.57 L602.06 173.57 L602.87 173.57 L603.69 173.58 L604.50 173.58 L605.32 173.59 L606.14 173.59 L606.95 173.59 L607.77 173.60 L608.58 173.60 L609.40 173.60 L610.21 173.61 L611.03 173.61 L611.85 173.62 L612.66 173.62 L613.48 173.62 L614.29 173.63 L615.11 173.63 L615.92 173.63 L616.74 173.63 L617.56 173.64 L618.37 173.64 L619.19 173.64 L620.00 173.65 L620.82 173.65 L621.63 173.65 L622.45 173.65 L623.27 173.66 L624.08 173.66 L624.90 173.66 L625.71 173.66 L626.53 173.67 L627.34 173.67 L628.16 173.67 L628.98 173.67 L629.79 173.67 L630.61 173.68 L631.42 173.68 L632.24 173.68 L633.05 173.68 L633.87 173.68 L634.69 173.68 L635.50 173.69 L636.32 173.69 L637.13 173.69 L637.95 173.69 L638.76 173.69 L639.58 173.69 L640.40 173.69 L641.21 173.69 L642.03 173.69 L642.84 173.70 L643.66 173.70 L644.47 173.70 L645.29 173.70 L646.11 173.70 L646.92 173.70 L647.74 173.70 L648.55 173.70 L649.37 173.70 L650.18 173.70 L651.00 173.70" fill="none" stroke="#000" stroke-width="0.75"/>
<path d="M407.00 81.37 L407.82 81.40 L408.63 81.45 L409.45 81.50 L410.26 81.56 L411.08 81.63 L411.90 81.70 L412.71 81.78 L413.53 81.86 L414.34 81.95 L415.16 82.04 L415.98 82.13 L416.79 82.23 L417.61 82.33 L418.42 82.44 L419.24 82.55 L420.06 82.67 L420.87 82.80 L421.69 82.93 L422.51 83.06 L423.32 83.20 L424.14 83.35 L424.95 83.50 L425.77 83.66 L426.59 83.82 L427.40 83.99 L428.22 84.16 L429.03 84.34 L429.85 84.52 L430.67 84.71 L431.48 84.90 L432.30 85.10 L433.11 85.30 L433.93 85.51 L434.75 85.72 L435.56 85.93 L436.38 86.15 L437.19 86.37 L438.01 86.60 L438.83 86.83 L439.64 87.06 L440.46 87.29 L441.27 87.53 L442.09 87.76 L442.91 87.99 L443.72 88.22 L444.54 88.45 L445.35 88.67 L446.17 88.88 L446.99 89.09 L447.80 89.30 L448.62 89.51 L449.43 89.71 L450.25 89.92 L451.07 90.13 L451.88 90.35 L452.70 90.58 L453.52 90.81 L454.33 91.07 L455.15 91.33 L455.96 91.61 L456.78 91.91 L457.60 92.22 L458.41 92.55 L459.23 92.89 L460.04 93.25 L460.86 93.62 L461.68 94.01 L462.49 94.41 L463.31 94.82 L464.12 95.25 L464.94 95.68 L465.76 96.13 L466.57 96.59 L467.39 97.05 L468.20 97.52 L469.02 97.99 L469.84 98.47 L470.65 98.95 L471.47 99.44 L472.28 99.93 L473.10 100.42 L473.92 100.92 L474.73 101.42 L475.55 101.94 L476.36 102.46 L477.18 103.00 L478.00 103.55 L478.81 104.12 L479.63 104.71 L480.44 105.33 L481.26 105.97 L482.08 106.64 L482.89 107.34 L483.71 108.05 L484.53 108.79 L485.34 109.53 L486.16 110.29 L486.97 111.06 L487.79 111.83 L488.61 112.61 L489.42 113.39 L490.24 114.18 L491.05 114.98 L491.87 115.78 L492.69 116.59 L493.50 117.40 L494.32 118.21 L495.13 119.03 L495.95 119.85 L496.77 120.66 L497.58 121.48 L498.40 122.29 L499.21 123.11 L500.03 123.92 L500.85 124.73 L501.66 125.54 L502.48 126.36 L503.29 127.19 L504.11 128.03 L504.93 128.89 L505.74 129.77 L506.56 130.67 L507.37 131.60 L508.19 132.54 L509.01 133.48 L509.82 134.44 L510.64 135.39 L511.45 136.35 L512.27 137.31 L513.09 138.27 L513.90 139.22 L514.72 140.17 L515.54 141.12 L516.35 142.06 L517.17 142.99 L517.98 143.91 L518.80 144.81 L519.62 145.70 L520.43 146.58 L521.25 147.45 L522.06 148.31 L522.88 149.18 L523.70 150.06 L524.51 150.95 L525.33 151.84 L526.14 152.75 L526.96 153.66 L527.78 154.59 L528.59 155.51 L529.41 156.43 L530.22 157.34 L531.04 158.24 L531.86 159.12 L532.67 159.98 L533.49 160.81 L534.30 161.61 L535.12 162.37 L535.94 163.10 L536.75 163.80 L537.57 164.46 L538.38 165.09 L539.20 165.68 L540.02 166.25 L540.83 166.79 L541.65 167.31 L542.46 167.80 L543.28 168.28 L544.10 168.73 L544.91 169.17 L545.73 169.59 L546.55 170.01 L547.36 170.41 L548.18 170.80 L548.99 171.18 L549.81 171.56 L550.63 171.92 L551.44 172.28 L552.26 172.63 L553.07 172.97 L553.89 173.29 L554.71 173.61 L555.52 173.90 L556.34 174.19 L557.15 174.46 L557.97 174.71 L558.79 174.96 L559.60 175.19 L560.42 175.41 L561.23 175.62 L562.05 175.82 L562.87 176.01 L563.68 176.19 L564.50 176.36 L565.31 176.53 L566.13 176.68 L566.95 176.83 L567.76 176.97 L568.58 177.10 L569.39 177.22 L570.21 177.34 L571.03 177.44 L571.84 177.54 L572.66 177.63 L573.47 177.71 L574.29 177.79 L575.11 177.86 L575.92 177.92 L576.74 177.98 L577.56 178.04 L578.37 178.09 L579.19 178.14 L580.00 178.19 L580.82 178.23 L581.64 178.27 L582.45 178.31 L583.27 178.35 L584.08 178.38 L584.90 178.42 L585.72 178.45 L586.53 178.48 L587.35 178.51 L588.16 178.54 L588.98 178.56 L589.80 178.59 L590.61 178.61 L591.43 178.64 L592.24 178.66 L593.06 178.69 L593.88 178.71 L594.69 178.74 L595.51 178.76 L596.32 178.79 L597.14 178.81 L597.96 178.84 L598.77 178.86 L599.59 178.89 L600.40 178.92 L601.22 178.94 L602.04 178.97 L602.85 179.00 L603.67 179.03 L604.48 179.06 L605.30 179.08 L606.12 179.11 L606.93 179.14 L607.75 179.17 L608.57 179.20 L609.38 179.23 L610.20 179.25 L611.01 179.28 L611.83 179.31 L612.65 179.34 L613.46 179.37 L614.28 179.40 L615.09 179.43 L615.91 179.46 L616.73 179.48 L617.54 179.51 L618.36 179.54 L619.17 179.57 L619.99 179.60 L620.81 179.63 L621.62 179.66 L622.44 179.68 L623.25 179.71 L624.07 179.74 L624.89 179.77 L625.70 179.80 L626.52 179.83 L627.33 179.86 L628.15 179.88 L628.97 179.91 L629.78 179.94 L630.60 179.97 L631.41 180.00 L632.23 180.03 L633.05 180.05 L633.86 180.08 L634.68 180.11 L635.49 180.14 L636.31 180.17 L637.13 180.20 L637.94 180.23 L638.76 180.26 L639.58 180.29 L640.39 180.31 L641.21 180.34 L642.02 180.37 L642.84 180.40 L643.66 180.43 L644.47 180.46 L645.29 180.49 L646.10 180.52 L646.92 180.55 L647.74 180.58 L648.55 180.60 L649.37 180.63 L650.18 180.65 L651.00 180.66" fill="none" stroke="#000" stroke-width="0.75"/>
<path d="M407.00 64.32 L407.82 64.33 L408.63 64.35 L409.45 64.36 L410.26 64.38 L411.08 64.40 L411.90 64.42 L412.71 64.44 L413.53 64.46 L414.34 64.48 L415.16 64.50 L415.98 64.52 L416.79 64.55 L417.61 64.57 L418.42 64.60 L419.24 64.62 L420.06 64.64 L420.87 64.67 L421.69 64.69 L422.51 64.72 L423.32 64.75 L424.14 64.77 L424.95 64.80 L425.77 64.83 L426.59 64.85 L427.40 64.88 L428.22 64.91 L429.03 64.94 L429.85 64.97 L430.67 65.00 L431.48 65.03 L432.30 65.06 L433.11 65.09 L433.93 65.12 L434.75 65.16 L435.56 65.19 L436.38 65.23 L437.19 65.27 L438.01 65.31 L438.83 65.35 L439.64 65.39 L440.46 65.44 L441.27 65.48 L442.09 65.53 L442.91 65.59 L443.72 65.64 L444.54 65.70 L445.35 65.76 L446.17 65.82 L446.99 65.88 L447.80 65.95 L448.62 66.02 L449.43 66.09 L450.25 66.16 L451.07 66.23 L451.88 66.31 L452.70 66.38 L453.52 66.46 L454.33 66.54 L455.15 66.62 L455.96 66.71 L456.78 66.79 L457.60 66.88 L458.41 66.97 L459.23 67.06 L460.04 67.15 L460.86 67.24 L461.68 67.34 L462.49 67.44 L463.31 67.54 L464.12 67.65 L464.94 67.75 L465.76 67.86 L466.57 67.97 L467.39 68.08 L468.20 68.19 L469.02 68.31 L469.84 68.43 L470.65 68.55 L471.47 68.67 L472.28 68.79 L473.10 68.91 L473.92 69.04 L474.73 69.17 L475.55 69.30 L476.36 69.44 L477.18 69.58 L478.00 69.73 L478.81 69.87 L479.63 70.03 L480.44 70.18 L481.26 70.34 L482.08 70.50 L482.89 70.67 L483.71 70.84 L484.53 71.01 L485.34 71.19 L486.16 71.37 L486.97 71.56 L487.79 71.75 L488.61 71.94 L489.42 72.14 L490.24 72.35 L491.05 72.55 L491.87 72.77 L492.69 72.98 L493.50 73.21 L494.32 73.44 L495.13 73.67 L495.95 73.92 L496.77 74.17 L497.58 74.42 L498.40 74.69 L499.21 74.96 L500.03 75.24 L500.85 75.52 L501.66 75.82 L502.48 76.12 L503.29 76.43 L504.11 76.74 L504.93 77.07 L505.74 77.40 L506.56 77.75 L507.37 78.10 L508.19 78.47 L509.01 78.84 L509.82 79.24 L510.64 79.64 L511.45 80.07 L512.27 80.51 L513.09 80.97 L513.90 81.45 L514.72 81.96 L515.54 82.49 L516.35 83.04 L517.17 83.62 L517.98 84.22 L518.80 84.85 L519.62 85.49 L520.43 86.14 L521.25 86.81 L522.06 87.49 L522.88 88.19 L523.70 88.89 L524.51 89.62 L525.33 90.36 L526.14 91.12 L526.96 91.92 L527.78 92.74 L528.59 93.59 L529.41 94.46 L530.22 95.36 L531.04 96.28 L531.86 97.22 L532.67 98.17 L533.49 99.13 L534.30 100.09 L535.12 101.04 L535.94 101.99 L536.75 102.93 L537.57 103.86 L538.38 104.79 L539.20 105.70 L540.02 106.62 L540.83 107.53 L541.65 108.44 L542.46 109.35 L543.28 110.28 L544.10 111.24 L544.91 112.21 L545.73 113.21 L546.55 114.24 L547.36 115.29 L548.18 116.36 L548.99 117.43 L549.81 118.52 L550.63 119.62 L551.44 120.72 L552.26 121.82 L553.07 122.92 L553.89 124.02 L554.71 125.11 L555.52 126.19 L556.34 127.26 L557.15 128.31 L557.97 129.35 L558.79 130.38 L559.60 131.40 L560.42 132.42 L561.23 133.43 L562.05 134.44 L562.87 135.46 L563.68 136.48 L564.50 137.51 L565.31 138.55 L566.13 139.61 L566.95 140.67 L567.76 141.75 L568.58 142.83 L569.39 143.90 L570.21 144.97 L571.03 146.02 L571.84 147.05 L572.66 148.06 L573.47 149.04 L574.29 149.98 L575.11 150.89 L575.92 151.77 L576.74 152.61 L577.56 153.43 L578.37 154.21 L579.19 154.97 L580.00 155.71 L580.82 156.44 L581.64 157.15 L582.45 157.87 L583.27 158.59 L584.08 159.32 L584.90 160.07 L585.72 160.82 L586.53 161.57 L587.35 162.32 L588.16 163.04 L588.98 163.73 L589.80 164.39 L590.61 165.00 L591.43 165.59 L592.24 166.14 L593.06 166.67 L593.88 167.16 L594.69 167.64 L595.51 168.08 L596.32 168.49 L597.14 168.86 L597.96 169.20 L598.77 169.51 L599.59 169.79 L600.40 170.03 L601.22 170.26 L602.04 170.46 L602.85 170.65 L603.67 170.83 L604.48 171.00 L605.30 171.16 L606.12 171.32 L606.93 171.47 L607.75 171.63 L608.57 171.78 L609.38 171.93 L610.20 172.07 L611.01 172.21 L611.83 172.35 L612.65 172.48 L613.46 172.61 L614.28 172.73 L615.09 172.85 L615.91 172.97 L616.73 173.08 L617.54 173.19 L618.36 173.29 L619.17 173.39 L619.99 173.48 L620.81 173.57 L621.62 173.66 L622.44 173.75 L623.25 173.83 L624.07 173.91 L624.89 173.98 L625.70 174.05 L626.52 174.12 L627.33 174.19 L628.15 174.25 L628.97 174.31 L629.78 174.37 L630.60 174.42 L631.41 174.47 L632.23 174.52 L633.05 174.57 L633.86 174.61 L634.68 174.65 L635.49 174.69 L636.31 174.73 L637.13 174.77 L637.94 174.81 L638.76 174.84 L639.58 174.88 L640.39 174.92 L641.21 174.96 L642.02 174.99 L642.84 175.03 L643.66 175.07 L644.47 175.11 L645.29 175.14 L646.10 175.18 L646.92 175.22 L647.74 175.25 L648.55 175.28 L649.37 175.31 L650.18 175.34 L651.00 175.36" fill="none" stroke="#000" stroke-width="0.75"/>
</g>
<text transform="translate(539.40,93.90)" font-size="13">EPE</text>
<text transform="translate(503.60,122.30)" font-size="13">L37I</text>
<text transform="translate(452.90,164.80)" font-size="13">L37V</text>
<text transform="translate(435.40,200.80)" font-size="13">L37A</text>
<text x="-1.2" y="16.9" font-size="23">a</text>
<text x="329.2" y="16.6" font-size="22">b</text>
<rect x="50.1" y="22.3" width="259.29999999999995" height="208.39999999999998" fill="none" stroke="#000" stroke-width="1.6"/>
<rect x="401.0" y="22.4" width="258.70000000000005" height="208.4" fill="none" stroke="#000" stroke-width="1.6"/>
<path d="M57.90 230.7v-4.3M57.90 22.3v4.3" stroke="#000" stroke-width="1.5"/>
<text transform="translate(57.90,248.20)" font-size="15" text-anchor="middle">0.001</text>
<path d="M107.20 230.7v-4.3M107.20 22.3v4.3" stroke="#000" stroke-width="1.5"/>
<text transform="translate(107.20,248.20)" font-size="15" text-anchor="middle">0.01</text>
<path d="M156.50 230.7v-4.3M156.50 22.3v4.3" stroke="#000" stroke-width="1.5"/>
<text transform="translate(156.50,248.20)" font-size="15" text-anchor="middle">0.1</text>
<path d="M205.80 230.7v-4.3M205.80 22.3v4.3" stroke="#000" stroke-width="1.5"/>
<text transform="translate(205.80,248.20)" font-size="15" text-anchor="middle">1</text>
<path d="M255.10 230.7v-4.3M255.10 22.3v4.3" stroke="#000" stroke-width="1.5"/>
<text transform="translate(255.10,248.20)" font-size="15" text-anchor="middle">10</text>
<path d="M304.40 230.7v-4.3M304.40 22.3v4.3" stroke="#000" stroke-width="1.5"/>
<text transform="translate(304.40,248.20)" font-size="15" text-anchor="middle">100</text>
<path d="M50.1 213.50h4.3M309.4 213.50h-4.3" stroke="#000" stroke-width="1.5"/>
<text transform="translate(45.80,219.20)" font-size="15" text-anchor="end">10<tspan font-size="9.5" dy="-7.3">2</tspan></text>
<path d="M50.1 136.40h4.3M309.4 136.40h-4.3" stroke="#000" stroke-width="1.5"/>
<text transform="translate(45.80,142.10)" font-size="15" text-anchor="end">10<tspan font-size="9.5" dy="-7.3">3</tspan></text>
<path d="M50.1 59.30h4.3M309.4 59.30h-4.3" stroke="#000" stroke-width="1.5"/>
<text transform="translate(45.80,65.00)" font-size="15" text-anchor="end">10<tspan font-size="9.5" dy="-7.3">4</tspan></text>
<text transform="translate(179.60,278.60)" font-size="18.2" text-anchor="middle">Angular frequency (rad s<tspan font-size="11.5" dy="-7">-1</tspan><tspan dy="7" dx="1.6">)</tspan></text>
<text transform="translate(18.00,170.00) rotate(-90) scale(1.0,1.04)" font-size="18.4"><tspan font-style="italic">G</tspan>&#8242;, <tspan font-style="italic">G</tspan>&#8243; (Pa)</text>
<path d="M407.20 230.8v-4.3M407.20 22.4v4.3" stroke="#000" stroke-width="1.5"/>
<text transform="translate(407.20,250.20)" font-size="15" text-anchor="middle">10<tspan font-size="9.5" dy="-6.5">-2</tspan></text>
<path d="M446.80 230.8v-4.3M446.80 22.4v4.3" stroke="#000" stroke-width="1.5"/>
<text transform="translate(446.80,250.20)" font-size="15" text-anchor="middle">10<tspan font-size="9.5" dy="-6.5">-1</tspan></text>
<path d="M486.40 230.8v-4.3M486.40 22.4v4.3" stroke="#000" stroke-width="1.5"/>
<text transform="translate(486.40,250.20)" font-size="15" text-anchor="middle">10<tspan font-size="9.5" dy="-6.5">0</tspan></text>
<path d="M526.00 230.8v-4.3M526.00 22.4v4.3" stroke="#000" stroke-width="1.5"/>
<text transform="translate(526.00,250.20)" font-size="15" text-anchor="middle">10<tspan font-size="9.5" dy="-6.5">1</tspan></text>
<path d="M565.60 230.8v-4.3M565.60 22.4v4.3" stroke="#000" stroke-width="1.5"/>
<text transform="translate(565.60,250.20)" font-size="15" text-anchor="middle">10<tspan font-size="9.5" dy="-6.5">2</tspan></text>
<path d="M605.20 230.8v-4.3M605.20 22.4v4.3" stroke="#000" stroke-width="1.5"/>
<text transform="translate(605.20,250.20)" font-size="15" text-anchor="middle">10<tspan font-size="9.5" dy="-6.5">3</tspan></text>
<path d="M644.80 230.8v-4.3M644.80 22.4v4.3" stroke="#000" stroke-width="1.5"/>
<text transform="translate(644.80,250.20)" font-size="15" text-anchor="middle">10<tspan font-size="9.5" dy="-6.5">4</tspan></text>
<path d="M401.0 230.70h4.3M659.7 230.70h-4.3" stroke="#000" stroke-width="1.5"/>
<text transform="translate(396.50,236.20)" font-size="15" text-anchor="end">0</text>
<path d="M401.0 172.90h4.3M659.7 172.90h-4.3" stroke="#000" stroke-width="1.5"/>
<text transform="translate(396.50,178.40)" font-size="15" text-anchor="end">5</text>
<path d="M401.0 115.10h4.3M659.7 115.10h-4.3" stroke="#000" stroke-width="1.5"/>
<text transform="translate(396.50,120.60)" font-size="15" text-anchor="end">10</text>
<path d="M401.0 57.30h4.3M659.7 57.30h-4.3" stroke="#000" stroke-width="1.5"/>
<text transform="translate(396.50,62.80)" font-size="15" text-anchor="end">15x10<tspan font-size="9.5" dy="-7.3">3</tspan></text>
<text transform="translate(530.90,278.60)" font-size="18.3" text-anchor="middle">Time (s)</text>
<text transform="translate(343.40,165.00) rotate(-90) scale(1.0,1.04)" font-size="18.2">G(<tspan font-style="italic">t</tspan>) (Pa)</text>
</svg></body></html>
